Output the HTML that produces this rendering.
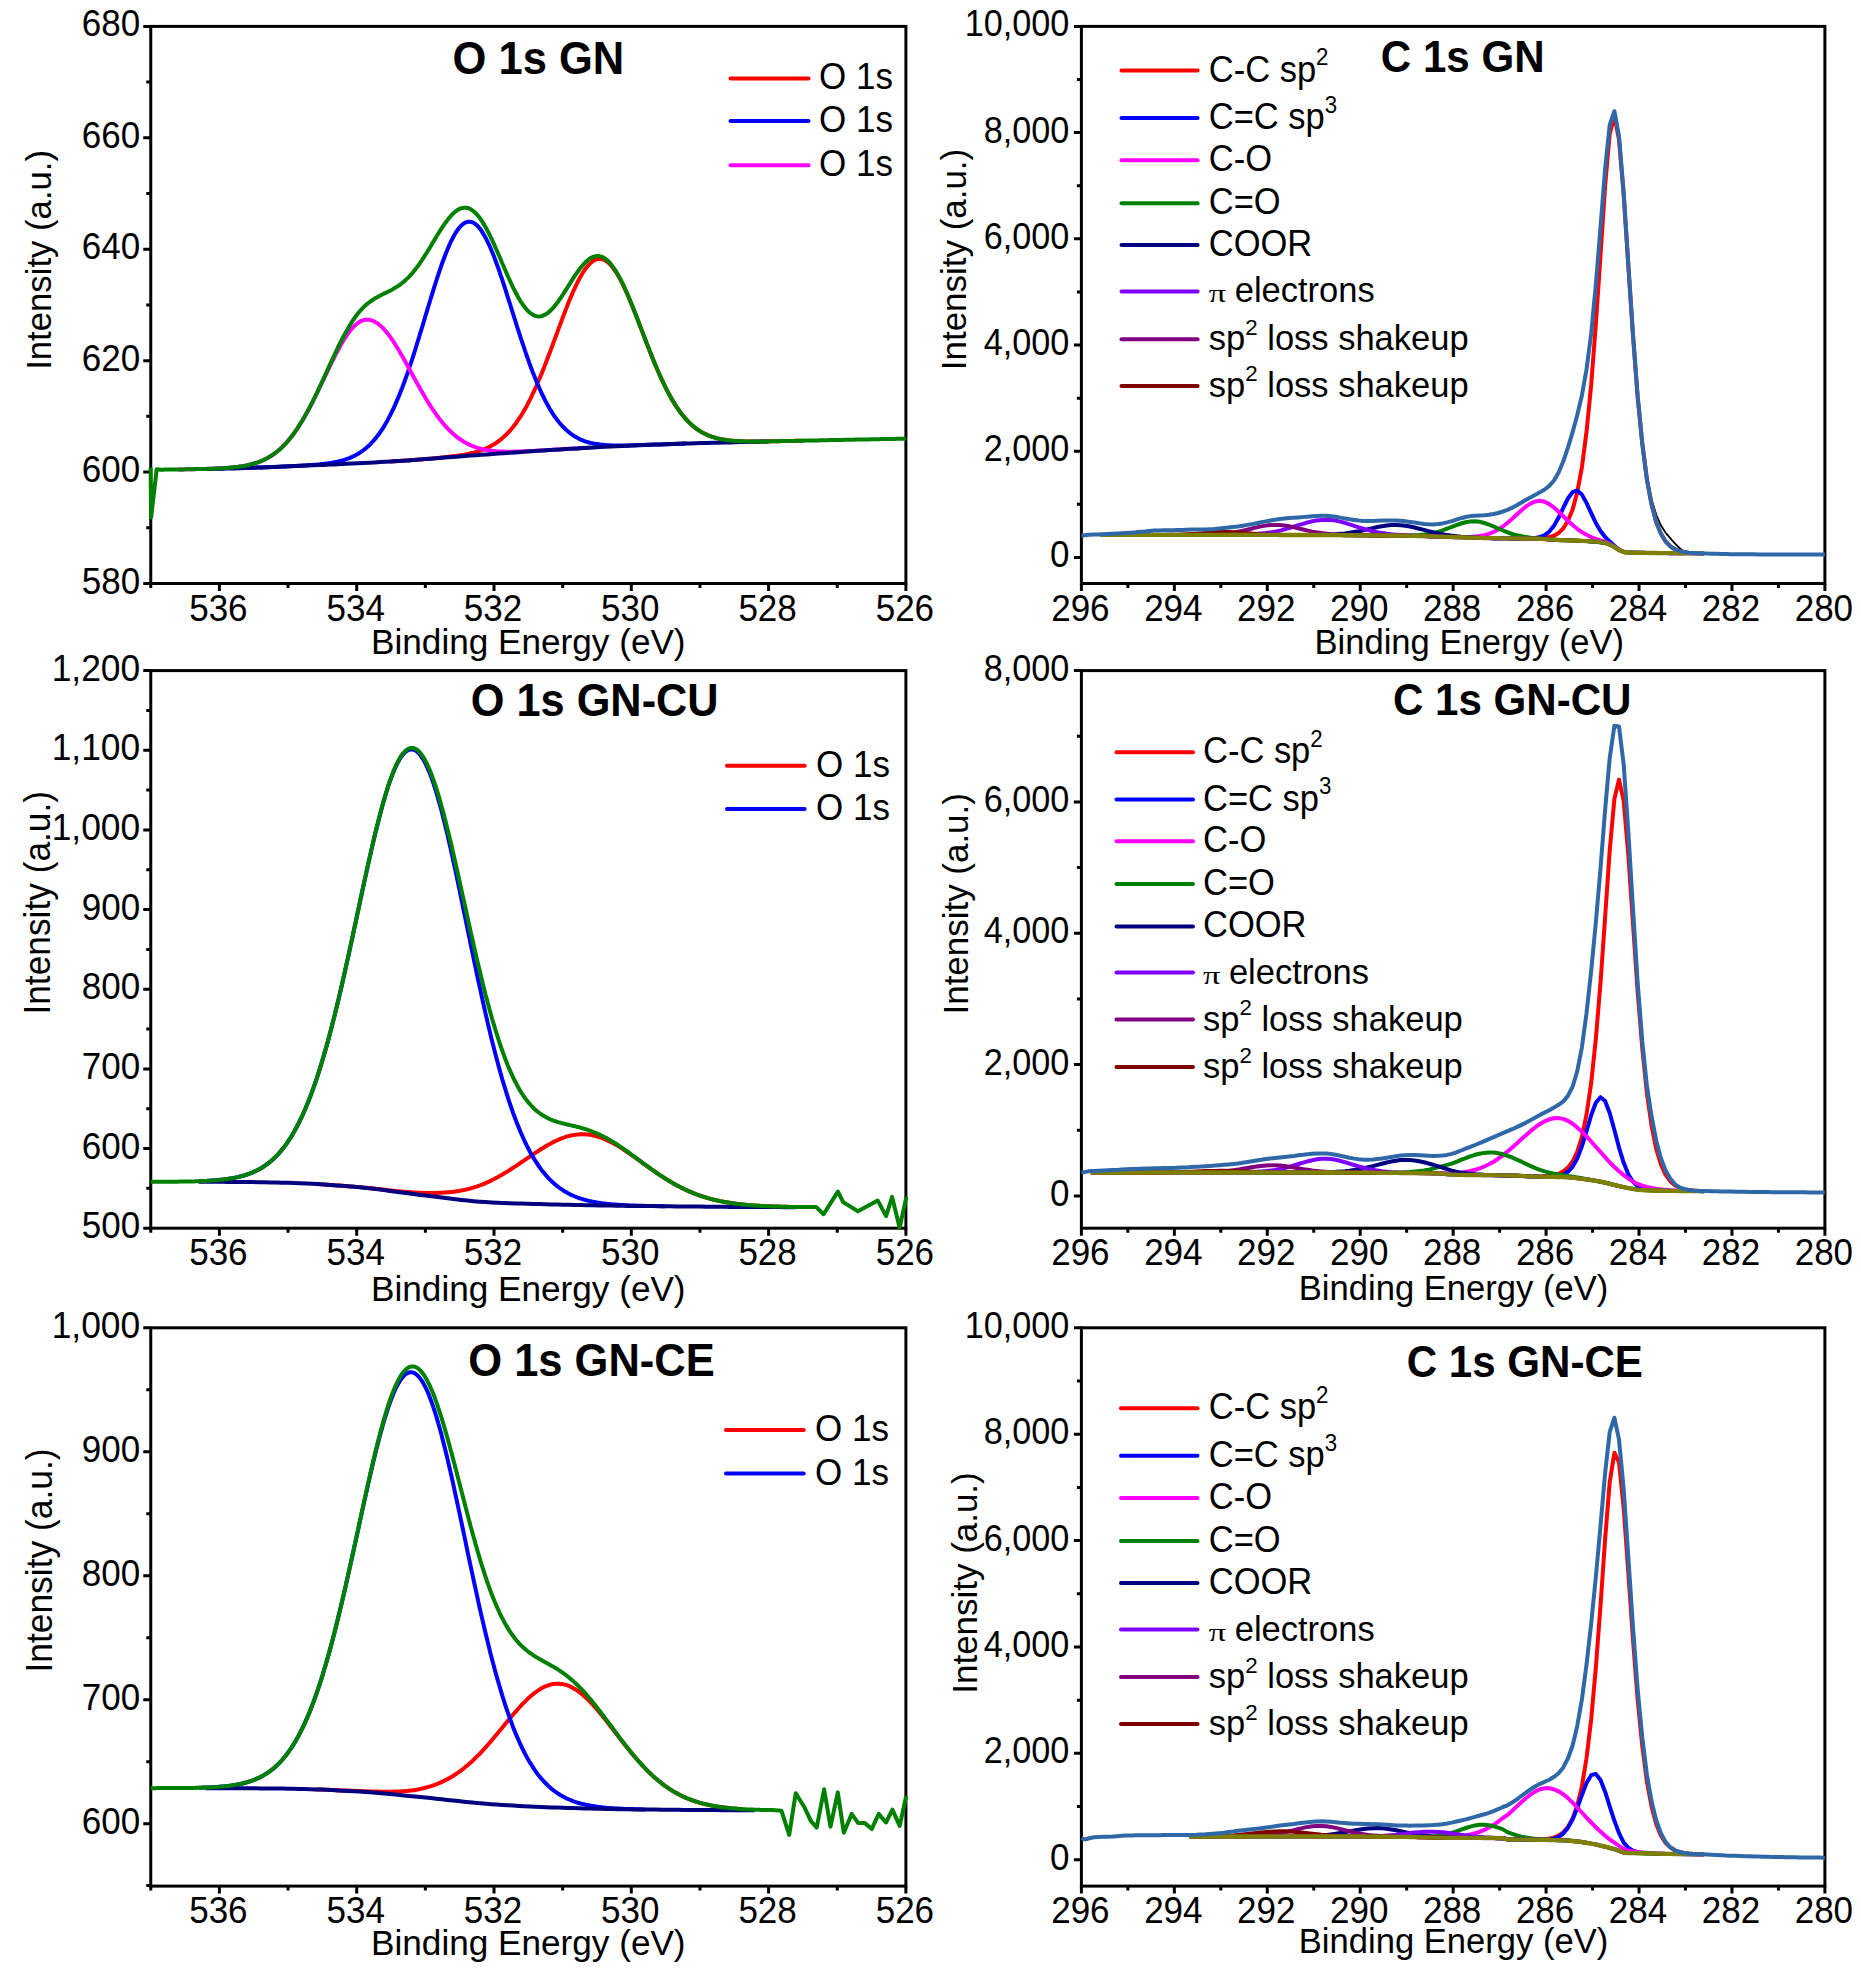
<!DOCTYPE html><html><head><meta charset="utf-8"><title>XPS</title><style>html,body{margin:0;padding:0;background:#fff}svg{display:block}text{font-family:"Liberation Sans", sans-serif;font-size:35px;fill:#000}</style></head><body>
<svg width="1861" height="1968" viewBox="0 0 1861 1968">
<rect width="1861" height="1968" fill="#fff"/>
<rect x="150.75" y="26.40" width="755.15" height="557.10" fill="none" stroke="#000" stroke-width="3.0"/>
<path d="M219.40 583.50v7.5M356.70 583.50v7.5M494.00 583.50v7.5M631.30 583.50v7.5M768.60 583.50v7.5M905.90 583.50v7.5M150.75 583.50v4.5M288.05 583.50v4.5M425.35 583.50v4.5M562.65 583.50v4.5M699.95 583.50v4.5M837.25 583.50v4.5M150.75 26.40h-7.5M150.75 137.82h-7.5M150.75 249.24h-7.5M150.75 360.66h-7.5M150.75 472.08h-7.5M150.75 583.50h-7.5M150.75 82.11h-4.5M150.75 193.53h-4.5M150.75 304.95h-4.5M150.75 416.37h-4.5M150.75 527.79h-4.5" stroke="#000" stroke-width="3.0" fill="none"/>
<text transform="translate(218.40 620.50) scale(1 1.07)" text-anchor="middle">536</text>
<text transform="translate(355.70 620.50) scale(1 1.07)" text-anchor="middle">534</text>
<text transform="translate(493.00 620.50) scale(1 1.07)" text-anchor="middle">532</text>
<text transform="translate(630.30 620.50) scale(1 1.07)" text-anchor="middle">530</text>
<text transform="translate(767.60 620.50) scale(1 1.07)" text-anchor="middle">528</text>
<text transform="translate(904.90 620.50) scale(1 1.07)" text-anchor="middle">526</text>
<text transform="translate(140.25 36.40) scale(1 1.07)" text-anchor="end">680</text>
<text transform="translate(140.25 147.82) scale(1 1.07)" text-anchor="end">660</text>
<text transform="translate(140.25 259.24) scale(1 1.07)" text-anchor="end">640</text>
<text transform="translate(140.25 370.66) scale(1 1.07)" text-anchor="end">620</text>
<text transform="translate(140.25 482.08) scale(1 1.07)" text-anchor="end">600</text>
<text transform="translate(140.25 593.50) scale(1 1.07)" text-anchor="end">580</text>
<polyline points="391.0,461.5 392.4,461.4 393.8,461.3 395.1,461.2 396.5,461.2 397.9,461.1 399.3,461.0 400.6,460.9 402.0,460.8 403.4,460.7 404.8,460.6 406.1,460.5 407.5,460.4 408.9,460.3 410.2,460.2 411.6,460.1 413.0,460.0 414.4,459.9 415.7,459.8 417.1,459.7 418.5,459.6 419.9,459.5 421.2,459.4 422.6,459.3 424.0,459.1 425.4,459.0 426.7,458.9 428.1,458.8 429.5,458.7 430.8,458.6 432.2,458.4 433.6,458.3 435.0,458.2 436.3,458.1 437.7,457.9 439.1,457.8 440.5,457.7 441.8,457.5 443.2,457.4 444.6,457.3 445.9,457.1 447.3,457.0 448.7,456.8 450.1,456.6 451.4,456.5 452.8,456.3 454.2,456.1 455.6,456.0 456.9,455.8 458.3,455.6 459.7,455.4 461.0,455.1 462.4,454.9 463.8,454.7 465.2,454.4 466.5,454.2 467.9,453.9 469.3,453.6 470.7,453.3 472.0,453.0 473.4,452.7 474.8,452.3 476.2,451.9 477.5,451.5 478.9,451.1 480.3,450.6 481.6,450.2 483.0,449.6 484.4,449.1 485.8,448.5 487.1,447.9 488.5,447.3 489.9,446.6 491.3,445.8 492.6,445.1 494.0,444.3 495.4,443.4 496.7,442.5 498.1,441.5 499.5,440.5 500.9,439.4 502.2,438.3 503.6,437.1 505.0,435.8 506.4,434.5 507.7,433.1 509.1,431.6 510.5,430.1 511.8,428.5 513.2,426.8 514.6,425.0 516.0,423.2 517.3,421.2 518.7,419.2 520.1,417.1 521.5,415.0 522.8,412.7 524.2,410.4 525.6,407.9 527.0,405.4 528.3,402.8 529.7,400.1 531.1,397.4 532.4,394.5 533.8,391.6 535.2,388.6 536.6,385.5 537.9,382.3 539.3,379.1 540.7,375.8 542.1,372.5 543.4,369.0 544.8,365.6 546.2,362.0 547.5,358.5 548.9,354.8 550.3,351.2 551.7,347.5 553.0,343.8 554.4,340.1 555.8,336.3 557.2,332.6 558.5,328.9 559.9,325.2 561.3,321.5 562.6,317.8 564.0,314.2 565.4,310.6 566.8,307.1 568.1,303.6 569.5,300.2 570.9,296.9 572.3,293.7 573.6,290.6 575.0,287.6 576.4,284.7 577.8,281.9 579.1,279.2 580.5,276.7 581.9,274.3 583.2,272.1 584.6,270.0 586.0,268.1 587.4,266.4 588.7,264.8 590.1,263.4 591.5,262.2 592.9,261.1 594.2,260.3 595.6,259.7 597.0,259.2 598.3,258.9 599.7,258.8 601.1,259.0 602.5,259.3 603.8,259.8 605.2,260.5 606.6,261.4 608.0,262.4 609.3,263.7 610.7,265.1 612.1,266.7 613.5,268.4 614.8,270.4 616.2,272.5 617.6,274.7 618.9,277.1 620.3,279.6 621.7,282.2 623.1,285.0 624.4,287.9 625.8,290.8 627.2,293.9 628.6,297.1 629.9,300.3 631.3,303.6 632.7,307.0 634.0,310.5 635.4,313.9 636.8,317.5 638.2,321.0 639.5,324.6 640.9,328.2 642.3,331.8 643.7,335.4 645.0,338.9 646.4,342.5 647.8,346.0 649.1,349.6 650.5,353.0 651.9,356.5 653.3,359.9 654.6,363.2 656.0,366.5 657.4,369.7 658.8,372.9 660.1,376.0 661.5,379.0 662.9,381.9 664.3,384.8 665.6,387.6 667.0,390.3 668.4,392.9 669.7,395.5 671.1,397.9 672.5,400.3 673.9,402.6 675.2,404.8 676.6,406.9 678.0,408.9 679.4,410.9 680.7,412.8 682.1,414.5 683.5,416.3 684.8,417.9 686.2,419.4 687.6,420.9 689.0,422.3 690.3,423.6 691.7,424.9 693.1,426.1 694.5,427.2 695.8,428.3 697.2,429.3 698.6,430.2 700.0,431.1 701.3,431.9 702.7,432.7 704.1,433.4 705.4,434.1 706.8,434.7 708.2,435.3 709.6,435.9 710.9,436.4 712.3,436.9 713.7,437.3 715.1,437.7 716.4,438.1 717.8,438.4 719.2,438.8 720.5,439.1 721.9,439.3 723.3,439.6 724.7,439.8 726.0,440.0 727.4,440.2 728.8,440.4 730.2,440.5 731.5,440.6 732.9,440.8 734.3,440.9 735.6,441.0 737.0,441.1 738.4,441.1 739.8,441.2 741.1,441.3 742.5,441.3 743.9,441.3 745.3,441.4 746.6,441.4 748.0,441.4 749.4,441.5 750.8,441.5 752.1,441.5 753.5,441.5 754.9,441.5 756.2,441.5 757.6,441.5 759.0,441.5 760.4,441.5 761.7,441.4 763.1,441.4 764.5,441.4 765.9,441.4 767.2,441.4 768.6,441.4 770.0,441.3 771.3,441.3 772.7,441.3 774.1,441.3 775.5,441.2 776.8,441.2 778.2,441.2 779.6,441.2 781.0,441.1 782.3,441.1 783.7,441.1 785.1,441.0 786.4,441.0 787.8,441.0 789.2,441.0 790.6,440.9 791.9,440.9 793.3,440.9 794.7,440.8 796.1,440.8 797.4,440.8 798.8,440.8 800.2,440.7 801.6,440.7 802.9,440.7" fill="none" stroke="#ff0000" stroke-width="4" stroke-linejoin="round" stroke-linecap="butt"/>
<polyline points="246.9,468.0 248.3,467.9 249.8,467.9 251.3,467.8 252.7,467.8 254.2,467.7 255.6,467.7 257.1,467.6 258.6,467.5 260.0,467.5 261.5,467.4 263.0,467.4 264.4,467.3 265.9,467.3 267.4,467.2 268.8,467.2 270.3,467.1 271.8,467.0 273.2,467.0 274.7,466.9 276.2,466.9 277.6,466.8 279.1,466.7 280.5,466.7 282.0,466.6 283.5,466.5 284.9,466.5 286.4,466.4 287.9,466.3 289.3,466.3 290.8,466.2 292.3,466.1 293.7,466.1 295.2,466.0 296.7,465.9 298.1,465.8 299.6,465.8 301.0,465.7 302.5,465.6 304.0,465.5 305.4,465.4 306.9,465.3 308.4,465.2 309.8,465.1 311.3,465.0 312.8,464.9 314.2,464.8 315.7,464.7 317.2,464.6 318.6,464.4 320.1,464.3 321.6,464.1 323.0,464.0 324.5,463.8 325.9,463.6 327.4,463.4 328.9,463.2 330.3,463.0 331.8,462.8 333.3,462.5 334.7,462.2 336.2,461.9 337.7,461.6 339.1,461.3 340.6,460.9 342.1,460.5 343.5,460.1 345.0,459.6 346.4,459.1 347.9,458.6 349.4,458.1 350.8,457.4 352.3,456.8 353.8,456.1 355.2,455.4 356.7,454.6 358.2,453.7 359.6,452.8 361.1,451.9 362.6,450.8 364.0,449.7 365.5,448.6 367.0,447.3 368.4,446.0 369.9,444.6 371.3,443.1 372.8,441.5 374.3,439.9 375.7,438.1 377.2,436.3 378.7,434.3 380.1,432.3 381.6,430.1 383.1,427.9 384.5,425.5 386.0,423.0 387.5,420.4 388.9,417.7 390.4,414.8 391.8,411.9 393.3,408.8 394.8,405.6 396.2,402.3 397.7,398.9 399.2,395.4 400.6,391.7 402.1,387.9 403.6,384.1 405.0,380.1 406.5,376.0 408.0,371.8 409.4,367.5 410.9,363.1 412.4,358.6 413.8,354.1 415.3,349.5 416.7,344.8 418.2,340.0 419.7,335.2 421.1,330.4 422.6,325.6 424.1,320.7 425.5,315.8 427.0,310.9 428.5,306.0 429.9,301.2 431.4,296.4 432.9,291.6 434.3,286.9 435.8,282.3 437.2,277.8 438.7,273.3 440.2,269.0 441.6,264.8 443.1,260.7 444.6,256.8 446.0,253.0 447.5,249.4 449.0,245.9 450.4,242.7 451.9,239.7 453.4,236.9 454.8,234.3 456.3,231.9 457.8,229.7 459.2,227.8 460.7,226.2 462.1,224.8 463.6,223.6 465.1,222.8 466.5,222.1 468.0,221.8 469.5,221.7 470.9,221.9 472.4,222.3 473.9,223.1 475.3,224.0 476.8,225.3 478.3,226.7 479.7,228.5 481.2,230.4 482.6,232.6 484.1,235.1 485.6,237.7 487.0,240.6 488.5,243.6 490.0,246.8 491.4,250.3 492.9,253.8 494.4,257.6 495.8,261.5 497.3,265.5 498.8,269.6 500.2,273.9 501.7,278.2 503.2,282.6 504.6,287.1 506.1,291.7 507.5,296.3 509.0,300.9 510.5,305.5 511.9,310.2 513.4,314.9 514.9,319.5 516.3,324.2 517.8,328.8 519.3,333.3 520.7,337.8 522.2,342.3 523.7,346.7 525.1,351.0 526.6,355.3 528.1,359.4 529.5,363.5 531.0,367.5 532.4,371.4 533.9,375.1 535.4,378.8 536.8,382.4 538.3,385.8 539.8,389.1 541.2,392.3 542.7,395.4 544.2,398.4 545.6,401.3 547.1,404.0 548.6,406.7 550.0,409.2 551.5,411.6 552.9,413.9 554.4,416.1 555.9,418.1 557.3,420.1 558.8,422.0 560.3,423.7 561.7,425.4 563.2,427.0 564.7,428.4 566.1,429.8 567.6,431.1 569.1,432.3 570.5,433.5 572.0,434.6 573.5,435.6 574.9,436.5 576.4,437.3 577.8,438.1 579.3,438.9 580.8,439.6 582.2,440.2 583.7,440.8 585.2,441.3 586.6,441.8 588.1,442.2 589.6,442.6 591.0,443.0 592.5,443.3 594.0,443.6 595.4,443.9 596.9,444.1 598.3,444.3 599.8,444.5 601.3,444.7 602.7,444.8 604.2,445.0 605.7,445.1 607.1,445.2 608.6,445.2 610.1,445.3 611.5,445.4 613.0,445.4 614.5,445.4 615.9,445.5 617.4,445.5 618.9,445.5 620.3,445.5 621.8,445.5 623.2,445.5 624.7,445.4 626.2,445.4 627.6,445.4 629.1,445.4 630.6,445.3 632.0,445.3 633.5,445.2 635.0,445.2 636.4,445.2 637.9,445.1 639.4,445.1 640.8,445.0 642.3,445.0 643.7,444.9 645.2,444.9 646.7,444.8 648.1,444.8 649.6,444.7 651.1,444.7 652.5,444.6 654.0,444.6 655.5,444.6 656.9,444.5 658.4,444.5 659.9,444.4 661.3,444.4 662.8,444.3 664.3,444.3 665.7,444.2 667.2,444.2 668.6,444.1 670.1,444.1 671.6,444.0 673.0,444.0 674.5,443.9 676.0,443.9 677.4,443.8 678.9,443.8 680.4,443.7 681.8,443.7 683.3,443.7 684.8,443.6 686.2,443.6" fill="none" stroke="#0000ff" stroke-width="4" stroke-linejoin="round" stroke-linecap="butt"/>
<polyline points="178.2,469.4 179.6,469.4 181.0,469.4 182.3,469.4 183.7,469.4 185.1,469.3 186.4,469.3 187.8,469.3 189.2,469.3 190.6,469.2 191.9,469.2 193.3,469.2 194.7,469.2 196.1,469.1 197.4,469.1 198.8,469.1 200.2,469.0 201.6,469.0 202.9,469.0 204.3,468.9 205.7,468.9 207.0,468.9 208.4,468.8 209.8,468.8 211.2,468.7 212.5,468.7 213.9,468.6 215.3,468.6 216.7,468.5 218.0,468.5 219.4,468.4 220.8,468.3 222.1,468.2 223.5,468.2 224.9,468.1 226.3,468.0 227.6,467.9 229.0,467.8 230.4,467.6 231.8,467.5 233.1,467.4 234.5,467.2 235.9,467.1 237.2,466.9 238.6,466.7 240.0,466.5 241.4,466.3 242.7,466.1 244.1,465.9 245.5,465.6 246.9,465.3 248.2,465.0 249.6,464.7 251.0,464.4 252.4,464.0 253.7,463.6 255.1,463.2 256.5,462.8 257.8,462.3 259.2,461.8 260.6,461.3 262.0,460.7 263.3,460.1 264.7,459.4 266.1,458.7 267.5,458.0 268.8,457.2 270.2,456.4 271.6,455.6 272.9,454.7 274.3,453.7 275.7,452.7 277.1,451.6 278.4,450.5 279.8,449.3 281.2,448.0 282.6,446.7 283.9,445.4 285.3,443.9 286.7,442.4 288.1,440.9 289.4,439.3 290.8,437.6 292.2,435.8 293.5,434.0 294.9,432.1 296.3,430.1 297.7,428.1 299.0,426.0 300.4,423.8 301.8,421.6 303.2,419.3 304.5,416.9 305.9,414.5 307.3,412.1 308.6,409.5 310.0,407.0 311.4,404.3 312.8,401.7 314.1,398.9 315.5,396.2 316.9,393.4 318.3,390.6 319.6,387.7 321.0,384.9 322.4,382.0 323.7,379.1 325.1,376.2 326.5,373.3 327.9,370.4 329.2,367.6 330.6,364.7 332.0,361.9 333.4,359.2 334.7,356.4 336.1,353.7 337.5,351.1 338.9,348.5 340.2,346.1 341.6,343.6 343.0,341.3 344.3,339.1 345.7,336.9 347.1,334.9 348.5,332.9 349.8,331.1 351.2,329.4 352.6,327.8 354.0,326.4 355.3,325.1 356.7,323.9 358.1,322.8 359.4,321.9 360.8,321.2 362.2,320.6 363.6,320.1 364.9,319.8 366.3,319.7 367.7,319.7 369.1,319.8 370.4,320.1 371.8,320.4 373.2,321.0 374.5,321.6 375.9,322.4 377.3,323.2 378.7,324.2 380.0,325.4 381.4,326.6 382.8,327.9 384.2,329.4 385.5,331.0 386.9,332.6 388.3,334.3 389.7,336.2 391.0,338.1 392.4,340.1 393.8,342.2 395.1,344.3 396.5,346.5 397.9,348.7 399.3,351.0 400.6,353.4 402.0,355.8 403.4,358.2 404.8,360.7 406.1,363.1 407.5,365.6 408.9,368.2 410.2,370.7 411.6,373.2 413.0,375.7 414.4,378.2 415.7,380.7 417.1,383.2 418.5,385.7 419.9,388.2 421.2,390.6 422.6,393.0 424.0,395.3 425.4,397.7 426.7,400.0 428.1,402.2 429.5,404.4 430.8,406.5 432.2,408.6 433.6,410.7 435.0,412.7 436.3,414.6 437.7,416.5 439.1,418.4 440.5,420.1 441.8,421.8 443.2,423.5 444.6,425.1 445.9,426.7 447.3,428.1 448.7,429.6 450.1,430.9 451.4,432.3 452.8,433.5 454.2,434.7 455.6,435.9 456.9,437.0 458.3,438.0 459.7,439.0 461.0,439.9 462.4,440.8 463.8,441.7 465.2,442.5 466.5,443.2 467.9,443.9 469.3,444.6 470.7,445.2 472.0,445.8 473.4,446.4 474.8,446.9 476.2,447.4 477.5,447.8 478.9,448.2 480.3,448.6 481.6,449.0 483.0,449.3 484.4,449.6 485.8,449.9 487.1,450.1 488.5,450.4 489.9,450.6 491.3,450.7 492.6,450.9 494.0,451.1 495.4,451.2 496.7,451.3 498.1,451.4 499.5,451.5 500.9,451.5 502.2,451.6 503.6,451.6 505.0,451.7 506.4,451.7 507.7,451.7 509.1,451.7 510.5,451.7 511.8,451.7 513.2,451.7 514.6,451.7 516.0,451.6 517.3,451.6 518.7,451.6 520.1,451.5 521.5,451.5 522.8,451.4 524.2,451.4 525.6,451.3 527.0,451.2 528.3,451.2 529.7,451.1 531.1,451.0 532.4,451.0 533.8,450.9 535.2,450.8 536.6,450.7 537.9,450.7 539.3,450.6 540.7,450.5 542.1,450.4 543.4,450.4 544.8,450.3 546.2,450.2 547.5,450.1 548.9,450.0 550.3,449.9 551.7,449.9 553.0,449.8 554.4,449.7 555.8,449.6 557.2,449.5 558.5,449.5 559.9,449.4 561.3,449.3 562.6,449.2 564.0,449.1 565.4,449.1 566.8,449.0 568.1,448.9 569.5,448.8 570.9,448.8 572.3,448.7 573.6,448.6 575.0,448.5 576.4,448.4 577.8,448.4 579.1,448.3 580.5,448.2 581.9,448.1 583.2,448.0 584.6,448.0 586.0,447.9 587.4,447.8 588.7,447.7 590.1,447.7" fill="none" stroke="#ff00ff" stroke-width="4" stroke-linejoin="round" stroke-linecap="butt"/>
<polyline points="205.7,469.0 211.3,468.9 216.9,468.8 222.6,468.7 228.2,468.5 233.8,468.4 239.4,468.2 245.1,468.0 250.7,467.8 256.3,467.6 262.0,467.4 267.6,467.2 273.2,467.0 278.9,466.8 284.5,466.5 290.1,466.3 295.7,466.1 301.4,465.8 307.0,465.6 312.6,465.3 318.3,465.1 323.9,464.9 329.5,464.6 335.1,464.4 340.8,464.1 346.4,463.8 352.0,463.6 357.7,463.3 363.3,463.0 368.9,462.7 374.5,462.4 380.2,462.1 385.8,461.8 391.4,461.5 397.1,461.1 402.7,460.8 408.3,460.4 414.0,460.0 419.6,459.5 425.2,459.1 430.8,458.7 436.5,458.2 442.1,457.8 447.7,457.3 453.4,456.9 459.0,456.4 464.6,456.0 470.2,455.6 475.9,455.2 481.5,454.8 487.1,454.4 492.8,454.0 498.4,453.6 504.0,453.2 509.7,452.8 515.3,452.4 520.9,452.0 526.5,451.6 532.2,451.2 537.8,450.8 543.4,450.4 549.1,450.1 554.7,449.7 560.3,449.4 565.9,449.0 571.6,448.7 577.2,448.4 582.8,448.1 588.5,447.7 594.1,447.4 599.7,447.1 605.4,446.8 611.0,446.5 616.6,446.2 622.2,446.0 627.9,445.7 633.5,445.4 639.1,445.2 644.8,445.0 650.4,444.8 656.0,444.6 661.6,444.4 667.3,444.2 672.9,444.0 678.5,443.8 684.2,443.6 689.8,443.5 695.4,443.3 701.0,443.1 706.7,443.0 712.3,442.8 717.9,442.7 723.6,442.5 729.2,442.4 734.8,442.3 740.5,442.1 746.1,442.0 751.7,441.8 757.3,441.7 763.0,441.6 768.6,441.4" fill="none" stroke="#000080" stroke-width="4" stroke-linejoin="round" stroke-linecap="butt"/>
<polyline points="150.6,467.5 151.1,517.4 156.7,469.2 161.0,469.7 162.9,469.7 164.8,469.6 166.6,469.6 168.5,469.6 170.4,469.6 172.2,469.5 174.1,469.5 175.9,469.5 177.8,469.4 179.7,469.4 181.5,469.4 183.4,469.4 185.3,469.3 187.1,469.3 189.0,469.3 190.8,469.2 192.7,469.2 194.6,469.2 196.4,469.1 198.3,469.1 200.2,469.0 202.0,469.0 203.9,468.9 205.7,468.9 207.6,468.8 209.5,468.8 211.3,468.7 213.2,468.7 215.0,468.6 216.9,468.5 218.8,468.4 220.6,468.3 222.5,468.2 224.4,468.1 226.2,468.0 228.1,467.8 229.9,467.7 231.8,467.5 233.7,467.3 235.5,467.1 237.4,466.9 239.3,466.6 241.1,466.4 243.0,466.1 244.8,465.7 246.7,465.4 248.6,465.0 250.4,464.5 252.3,464.0 254.2,463.5 256.0,462.9 257.9,462.3 259.7,461.6 261.6,460.8 263.5,460.0 265.3,459.1 267.2,458.2 269.1,457.1 270.9,456.0 272.8,454.8 274.6,453.4 276.5,452.0 278.4,450.5 280.2,448.9 282.1,447.2 283.9,445.3 285.8,443.4 287.7,441.3 289.5,439.1 291.4,436.7 293.3,434.3 295.1,431.7 297.0,429.0 298.8,426.1 300.7,423.2 302.6,420.1 304.4,416.9 306.3,413.6 308.2,410.2 310.0,406.6 311.9,403.0 313.7,399.3 315.6,395.5 317.5,391.6 319.3,387.6 321.2,383.7 323.1,379.6 324.9,375.6 326.8,371.5 328.6,367.4 330.5,363.4 332.4,359.3 334.2,355.3 336.1,351.4 337.9,347.5 339.8,343.7 341.7,340.0 343.5,336.5 345.4,333.0 347.3,329.7 349.1,326.5 351.0,323.4 352.8,320.5 354.7,317.8 356.6,315.3 358.4,312.9 360.3,310.7 362.2,308.6 364.0,306.8 365.9,305.1 367.7,303.5 369.6,302.1 371.5,300.7 373.3,299.5 375.2,298.3 377.1,297.3 378.9,296.2 380.8,295.3 382.6,294.3 384.5,293.4 386.4,292.5 388.2,291.6 390.1,290.7 392.0,289.7 393.8,288.6 395.7,287.5 397.5,286.4 399.4,285.1 401.3,283.7 403.1,282.2 405.0,280.6 406.8,278.9 408.7,277.1 410.6,275.1 412.4,273.0 414.3,270.7 416.2,268.3 418.0,265.8 419.9,263.2 421.7,260.5 423.6,257.6 425.5,254.7 427.3,251.7 429.2,248.7 431.1,245.6 432.9,242.5 434.8,239.4 436.6,236.3 438.5,233.3 440.4,230.3 442.2,227.4 444.1,224.7 446.0,222.0 447.8,219.6 449.7,217.3 451.5,215.2 453.4,213.3 455.3,211.7 457.1,210.3 459.0,209.2 460.9,208.4 462.7,207.9 464.6,207.7 466.4,207.8 468.3,208.2 470.2,209.0 472.0,210.1 473.9,211.5 475.7,213.2 477.6,215.3 479.5,217.6 481.3,220.2 483.2,223.1 485.1,226.2 486.9,229.6 488.8,233.2 490.6,237.0 492.5,240.9 494.4,245.0 496.2,249.2 498.1,253.5 500.0,257.8 501.8,262.2 503.7,266.5 505.5,270.8 507.4,275.1 509.3,279.3 511.1,283.3 513.0,287.3 514.9,291.0 516.7,294.6 518.6,298.0 520.4,301.1 522.3,303.9 524.2,306.5 526.0,308.9 527.9,310.9 529.7,312.6 531.6,314.0 533.5,315.1 535.3,315.9 537.2,316.3 539.1,316.4 540.9,316.2 542.8,315.7 544.6,314.9 546.5,313.8 548.4,312.5 550.2,310.8 552.1,309.0 554.0,306.9 555.8,304.6 557.7,302.2 559.5,299.6 561.4,296.8 563.3,294.0 565.1,291.1 567.0,288.1 568.9,285.2 570.7,282.2 572.6,279.3 574.4,276.4 576.3,273.7 578.2,271.0 580.0,268.5 581.9,266.2 583.8,264.1 585.6,262.1 587.5,260.4 589.3,259.0 591.2,257.8 593.1,256.9 594.9,256.4 596.8,256.1 598.6,256.1 600.5,256.4 602.4,257.1 604.2,258.0 606.1,259.3 608.0,261.0 609.8,262.9 611.7,265.1 613.5,267.6 615.4,270.4 617.3,273.5 619.1,276.8 621.0,280.3 622.9,284.1 624.7,288.0 626.6,292.2 628.4,296.5 630.3,301.0 632.2,305.5 634.0,310.2 635.9,315.0 637.8,319.8 639.6,324.7 641.5,329.6 643.3,334.4 645.2,339.3 647.1,344.2 648.9,348.9 650.8,353.7 652.7,358.3 654.5,362.9 656.4,367.3 658.2,371.7 660.1,375.9 662.0,380.0 663.8,383.9 665.7,387.7 667.5,391.4 669.4,394.8 671.3,398.2 673.1,401.4 675.0,404.4 676.9,407.3 678.7,410.0 680.6,412.6 682.4,415.0 684.3,417.2 686.2,419.4 688.0,421.4 689.9,423.2 691.8,424.9 693.6,426.5 695.5,428.0 697.3,429.4 699.2,430.6 701.1,431.8 702.9,432.8 704.8,433.8 706.7,434.7 708.5,435.5 710.4,436.2 712.2,436.9 714.1,437.4 716.0,438.0 717.8,438.5 719.7,438.9 721.5,439.3 723.4,439.6 725.3,439.9 727.1,440.2 729.0,440.4 730.9,440.6 732.7,440.7 734.6,440.9 736.4,441.0 738.3,441.1 740.2,441.2 742.0,441.3 743.9,441.3 745.8,441.4 747.6,441.4 749.5,441.5 751.3,441.5 753.2,441.5 755.1,441.5 756.9,441.5 758.8,441.5 760.7,441.5 762.5,441.4 764.4,441.4 766.2,441.4 768.1,441.4 770.0,441.3 771.8,441.3 773.7,441.3 775.6,441.2 777.4,441.2 779.3,441.2 781.1,441.1 783.0,441.1 784.9,441.0 786.7,441.0 788.6,441.0 790.4,440.9 792.3,440.9 794.2,440.9 796.0,440.8 797.9,440.8 799.8,440.7 801.6,440.7 803.5,440.7 805.3,440.6 807.2,440.6 809.1,440.5 810.9,440.5 812.8,440.5 814.7,440.4 816.5,440.4 818.4,440.4 820.2,440.3 822.1,440.3 824.0,440.2 825.8,440.2 827.7,440.2 829.6,440.1 831.4,440.1 833.3,440.1 835.1,440.0 837.0,440.0 838.9,440.0 840.7,439.9 842.6,439.9 844.4,439.8 846.3,439.8 848.2,439.8 850.0,439.7 851.9,439.7 853.8,439.7 855.6,439.6 857.5,439.6 859.3,439.6 861.2,439.5 863.1,439.5 864.9,439.5 866.8,439.4 868.7,439.4 870.5,439.3 872.4,439.3 874.2,439.3 876.1,439.2 878.0,439.2 879.8,439.2 881.7,439.1 883.6,439.1 885.4,439.1 887.3,439.0 889.1,439.0 891.0,439.0 892.9,438.9 894.7,438.9 896.6,438.8 898.5,438.8 900.3,438.8 902.2,438.7 904.0,438.7 905.9,438.7" fill="none" stroke="#008000" stroke-width="4" stroke-linejoin="round"/>
<text transform="translate(528.30 653.50) scale(1 1.02)" text-anchor="middle" style="font-size:35.15px">Binding Energy (eV)</text>
<text transform="translate(50.60 259.90) rotate(-90) scale(1 1.03)" text-anchor="middle" style="font-size:34.7px">Intensity (a.u.)</text>
<text transform="translate(538.40 73.50) scale(1 1.06)" text-anchor="middle" font-weight="bold" style="font-size:43.5px">O 1s GN</text>
<line x1="730.5" x2="808.5" y1="78.4" y2="78.4" stroke="#ff0000" stroke-width="4" stroke-linecap="round"/>
<text transform="translate(819 89.4) scale(1 1.07)">O 1s</text>
<line x1="730.5" x2="808.5" y1="121.1" y2="121.1" stroke="#0000ff" stroke-width="4" stroke-linecap="round"/>
<text transform="translate(819 132.1) scale(1 1.07)">O 1s</text>
<line x1="730.5" x2="808.5" y1="165.3" y2="165.3" stroke="#ff00ff" stroke-width="4" stroke-linecap="round"/>
<text transform="translate(819 176.3) scale(1 1.07)">O 1s</text>
<rect x="150.75" y="670.60" width="755.15" height="557.60" fill="none" stroke="#000" stroke-width="3.0"/>
<path d="M219.40 1228.20v7.5M356.70 1228.20v7.5M494.00 1228.20v7.5M631.30 1228.20v7.5M768.60 1228.20v7.5M905.90 1228.20v7.5M150.75 1228.20v4.5M288.05 1228.20v4.5M425.35 1228.20v4.5M562.65 1228.20v4.5M699.95 1228.20v4.5M837.25 1228.20v4.5M150.75 670.60h-7.5M150.75 750.26h-7.5M150.75 829.91h-7.5M150.75 909.57h-7.5M150.75 989.23h-7.5M150.75 1068.89h-7.5M150.75 1148.54h-7.5M150.75 1228.20h-7.5M150.75 710.43h-4.5M150.75 790.09h-4.5M150.75 869.74h-4.5M150.75 949.40h-4.5M150.75 1029.06h-4.5M150.75 1108.71h-4.5M150.75 1188.37h-4.5" stroke="#000" stroke-width="3.0" fill="none"/>
<text transform="translate(218.40 1265.20) scale(1 1.07)" text-anchor="middle">536</text>
<text transform="translate(355.70 1265.20) scale(1 1.07)" text-anchor="middle">534</text>
<text transform="translate(493.00 1265.20) scale(1 1.07)" text-anchor="middle">532</text>
<text transform="translate(630.30 1265.20) scale(1 1.07)" text-anchor="middle">530</text>
<text transform="translate(767.60 1265.20) scale(1 1.07)" text-anchor="middle">528</text>
<text transform="translate(904.90 1265.20) scale(1 1.07)" text-anchor="middle">526</text>
<text transform="translate(140.25 680.60) scale(1.012 1.07)" text-anchor="end">1,200</text>
<text transform="translate(140.25 760.26) scale(1.012 1.07)" text-anchor="end">1,100</text>
<text transform="translate(140.25 839.91) scale(1.012 1.07)" text-anchor="end">1,000</text>
<text transform="translate(140.25 919.57) scale(1 1.07)" text-anchor="end">900</text>
<text transform="translate(140.25 999.23) scale(1 1.07)" text-anchor="end">800</text>
<text transform="translate(140.25 1078.89) scale(1 1.07)" text-anchor="end">700</text>
<text transform="translate(140.25 1158.54) scale(1 1.07)" text-anchor="end">600</text>
<text transform="translate(140.25 1238.20) scale(1 1.07)" text-anchor="end">500</text>
<polyline points="315.5,1184.0 317.1,1184.1 318.8,1184.2 320.4,1184.3 322.0,1184.4 323.6,1184.5 325.3,1184.6 326.9,1184.7 328.5,1184.8 330.1,1184.9 331.8,1185.0 333.4,1185.1 335.0,1185.3 336.6,1185.4 338.3,1185.5 339.9,1185.6 341.5,1185.7 343.1,1185.9 344.8,1186.0 346.4,1186.1 348.0,1186.2 349.6,1186.4 351.3,1186.5 352.9,1186.6 354.5,1186.7 356.1,1186.9 357.8,1187.0 359.4,1187.1 361.0,1187.3 362.6,1187.4 364.3,1187.6 365.9,1187.7 367.5,1187.9 369.1,1188.1 370.8,1188.2 372.4,1188.4 374.0,1188.6 375.6,1188.8 377.2,1188.9 378.9,1189.1 380.5,1189.3 382.1,1189.5 383.7,1189.7 385.4,1189.8 387.0,1190.0 388.6,1190.2 390.2,1190.4 391.9,1190.6 393.5,1190.7 395.1,1190.9 396.7,1191.1 398.4,1191.2 400.0,1191.4 401.6,1191.5 403.2,1191.7 404.9,1191.8 406.5,1192.0 408.1,1192.1 409.7,1192.2 411.4,1192.3 413.0,1192.5 414.6,1192.6 416.2,1192.6 417.9,1192.7 419.5,1192.8 421.1,1192.8 422.7,1192.9 424.4,1192.9 426.0,1192.9 427.6,1193.0 429.2,1193.0 430.9,1193.0 432.5,1192.9 434.1,1192.9 435.7,1192.9 437.4,1192.9 439.0,1192.8 440.6,1192.7 442.2,1192.7 443.9,1192.6 445.5,1192.5 447.1,1192.3 448.7,1192.2 450.4,1192.0 452.0,1191.9 453.6,1191.7 455.2,1191.5 456.9,1191.2 458.5,1191.0 460.1,1190.7 461.7,1190.4 463.4,1190.1 465.0,1189.8 466.6,1189.4 468.2,1189.0 469.9,1188.6 471.5,1188.2 473.1,1187.7 474.7,1187.2 476.4,1186.7 478.0,1186.1 479.6,1185.5 481.2,1184.9 482.9,1184.3 484.5,1183.6 486.1,1182.9 487.7,1182.2 489.4,1181.4 491.0,1180.6 492.6,1179.8 494.2,1179.0 495.9,1178.1 497.5,1177.3 499.1,1176.4 500.7,1175.4 502.4,1174.5 504.0,1173.5 505.6,1172.6 507.2,1171.6 508.9,1170.6 510.5,1169.5 512.1,1168.5 513.7,1167.4 515.4,1166.4 517.0,1165.3 518.6,1164.2 520.2,1163.1 521.8,1162.0 523.5,1160.9 525.1,1159.8 526.7,1158.7 528.3,1157.6 530.0,1156.5 531.6,1155.4 533.2,1154.3 534.8,1153.2 536.5,1152.1 538.1,1151.1 539.7,1150.0 541.3,1149.0 543.0,1148.0 544.6,1147.0 546.2,1146.0 547.8,1145.1 549.5,1144.2 551.1,1143.3 552.7,1142.4 554.3,1141.6 556.0,1140.8 557.6,1140.1 559.2,1139.4 560.8,1138.7 562.5,1138.1 564.1,1137.5 565.7,1136.9 567.3,1136.4 569.0,1136.0 570.6,1135.6 572.2,1135.2 573.8,1134.9 575.5,1134.7 577.1,1134.5 578.7,1134.4 580.3,1134.3 582.0,1134.2 583.6,1134.2 585.2,1134.3 586.8,1134.4 588.5,1134.6 590.1,1134.8 591.7,1135.1 593.3,1135.5 595.0,1135.8 596.6,1136.3 598.2,1136.8 599.8,1137.3 601.5,1137.9 603.1,1138.5 604.7,1139.2 606.3,1139.9 608.0,1140.6 609.6,1141.4 611.2,1142.2 612.8,1143.1 614.5,1144.0 616.1,1144.9 617.7,1145.9 619.3,1146.9 621.0,1147.9 622.6,1148.9 624.2,1150.0 625.8,1151.1 627.5,1152.2 629.1,1153.3 630.7,1154.4 632.3,1155.6 634.0,1156.7 635.6,1157.9 637.2,1159.1 638.8,1160.2 640.5,1161.4 642.1,1162.6 643.7,1163.8 645.3,1164.9 647.0,1166.1 648.6,1167.3 650.2,1168.4 651.8,1169.6 653.5,1170.7 655.1,1171.8 656.7,1173.0 658.3,1174.1 659.9,1175.1 661.6,1176.2 663.2,1177.3 664.8,1178.3 666.4,1179.3 668.1,1180.3 669.7,1181.3 671.3,1182.3 672.9,1183.2 674.6,1184.1 676.2,1185.0 677.8,1185.9 679.4,1186.7 681.1,1187.6 682.7,1188.4 684.3,1189.2 685.9,1189.9 687.6,1190.7 689.2,1191.4 690.8,1192.1 692.4,1192.7 694.1,1193.4 695.7,1194.0 697.3,1194.6 698.9,1195.2 700.6,1195.8 702.2,1196.3 703.8,1196.9 705.4,1197.4 707.1,1197.8 708.7,1198.3 710.3,1198.8 711.9,1199.2 713.6,1199.6 715.2,1200.0 716.8,1200.4 718.4,1200.7 720.1,1201.1 721.7,1201.4 723.3,1201.7 724.9,1202.0 726.6,1202.3 728.2,1202.6 729.8,1202.8 731.4,1203.1 733.1,1203.3 734.7,1203.6 736.3,1203.8 737.9,1204.0 739.6,1204.2 741.2,1204.3 742.8,1204.5 744.4,1204.7 746.1,1204.8 747.7,1205.0 749.3,1205.1 750.9,1205.3 752.6,1205.4 754.2,1205.5 755.8,1205.6 757.4,1205.7 759.1,1205.8 760.7,1205.9 762.3,1206.0 763.9,1206.1 765.6,1206.1 767.2,1206.2 768.8,1206.3 770.4,1206.4 772.1,1206.4 773.7,1206.5 775.3,1206.5 776.9,1206.6 778.6,1206.6 780.2,1206.7 781.8,1206.7 783.4,1206.7 785.1,1206.8 786.7,1206.8 788.3,1206.8 789.9,1206.9 791.6,1206.9 793.2,1206.9 794.8,1207.0 796.4,1207.0 798.1,1207.0 799.7,1207.0 801.3,1207.0 802.9,1207.1" fill="none" stroke="#ff0000" stroke-width="4" stroke-linejoin="round" stroke-linecap="butt"/>
<polyline points="198.8,1181.2 200.4,1181.2 201.9,1181.1 203.5,1181.0 205.0,1181.0 206.6,1180.9 208.1,1180.8 209.7,1180.7 211.3,1180.6 212.8,1180.5 214.4,1180.4 215.9,1180.3 217.5,1180.1 219.0,1180.0 220.6,1179.8 222.1,1179.6 223.7,1179.5 225.3,1179.3 226.8,1179.1 228.4,1178.8 229.9,1178.6 231.5,1178.3 233.0,1178.1 234.6,1177.8 236.2,1177.4 237.7,1177.1 239.3,1176.7 240.8,1176.3 242.4,1175.9 243.9,1175.5 245.5,1175.0 247.0,1174.5 248.6,1174.0 250.2,1173.4 251.7,1172.8 253.3,1172.1 254.8,1171.4 256.4,1170.7 257.9,1169.9 259.5,1169.0 261.0,1168.2 262.6,1167.2 264.2,1166.2 265.7,1165.1 267.3,1164.0 268.8,1162.8 270.4,1161.6 271.9,1160.2 273.5,1158.8 275.1,1157.4 276.6,1155.8 278.2,1154.1 279.7,1152.4 281.3,1150.6 282.8,1148.7 284.4,1146.7 285.9,1144.6 287.5,1142.3 289.1,1140.0 290.6,1137.6 292.2,1135.1 293.7,1132.4 295.3,1129.6 296.8,1126.8 298.4,1123.8 299.9,1120.6 301.5,1117.4 303.1,1114.0 304.6,1110.5 306.2,1106.8 307.7,1103.1 309.3,1099.1 310.8,1095.1 312.4,1090.9 314.0,1086.5 315.5,1082.0 317.1,1077.4 318.6,1072.6 320.2,1067.7 321.7,1062.6 323.3,1057.4 324.8,1052.1 326.4,1046.6 328.0,1040.9 329.5,1035.2 331.1,1029.3 332.6,1023.2 334.2,1017.1 335.7,1010.8 337.3,1004.4 338.9,997.9 340.4,991.2 342.0,984.5 343.5,977.7 345.1,970.8 346.6,963.8 348.2,956.7 349.7,949.6 351.3,942.4 352.9,935.2 354.4,927.9 356.0,920.7 357.5,913.4 359.1,906.1 360.6,898.8 362.2,891.6 363.7,884.4 365.3,877.2 366.9,870.1 368.4,863.1 370.0,856.2 371.5,849.4 373.1,842.7 374.6,836.1 376.2,829.7 377.8,823.5 379.3,817.4 380.9,811.5 382.4,805.8 384.0,800.3 385.5,795.0 387.1,789.9 388.6,785.2 390.2,780.6 391.8,776.4 393.3,772.4 394.9,768.7 396.4,765.3 398.0,762.2 399.5,759.5 401.1,757.0 402.6,754.9 404.2,753.1 405.8,751.7 407.3,750.6 408.9,749.9 410.4,749.5 412.0,749.4 413.5,749.7 415.1,750.4 416.7,751.4 418.2,752.7 419.8,754.4 421.3,756.5 422.9,758.8 424.4,761.5 426.0,764.6 427.5,767.9 429.1,771.6 430.7,775.5 432.2,779.8 433.8,784.3 435.3,789.2 436.9,794.3 438.4,799.6 440.0,805.2 441.6,811.0 443.1,817.0 444.7,823.2 446.2,829.6 447.8,836.2 449.3,843.0 450.9,849.8 452.4,856.9 454.0,864.0 455.6,871.2 457.1,878.6 458.7,886.0 460.2,893.5 461.8,901.0 463.3,908.5 464.9,916.1 466.4,923.7 468.0,931.3 469.6,938.9 471.1,946.4 472.7,953.9 474.2,961.4 475.8,968.8 477.3,976.2 478.9,983.4 480.5,990.6 482.0,997.7 483.6,1004.7 485.1,1011.6 486.7,1018.4 488.2,1025.0 489.8,1031.6 491.3,1038.0 492.9,1044.2 494.5,1050.4 496.0,1056.4 497.6,1062.3 499.1,1068.0 500.7,1073.6 502.2,1079.0 503.8,1084.3 505.4,1089.4 506.9,1094.4 508.5,1099.3 510.0,1104.0 511.6,1108.5 513.1,1113.0 514.7,1117.2 516.2,1121.3 517.8,1125.3 519.4,1129.1 520.9,1132.8 522.5,1136.4 524.0,1139.8 525.6,1143.1 527.1,1146.3 528.7,1149.3 530.2,1152.2 531.8,1155.0 533.4,1157.7 534.9,1160.2 536.5,1162.7 538.0,1165.0 539.6,1167.2 541.1,1169.4 542.7,1171.4 544.3,1173.3 545.8,1175.2 547.4,1176.9 548.9,1178.6 550.5,1180.2 552.0,1181.7 553.6,1183.1 555.1,1184.4 556.7,1185.7 558.3,1187.0 559.8,1188.1 561.4,1189.2 562.9,1190.2 564.5,1191.2 566.0,1192.1 567.6,1193.0 569.1,1193.8 570.7,1194.6 572.3,1195.3 573.8,1196.0 575.4,1196.6 576.9,1197.3 578.5,1197.8 580.0,1198.4 581.6,1198.9 583.2,1199.3 584.7,1199.8 586.3,1200.2 587.8,1200.6 589.4,1201.0 590.9,1201.3 592.5,1201.6 594.0,1201.9 595.6,1202.2 597.2,1202.5 598.7,1202.7 600.3,1203.0 601.8,1203.2 603.4,1203.4 604.9,1203.6 606.5,1203.8 608.1,1203.9 609.6,1204.1 611.2,1204.2 612.7,1204.4 614.3,1204.5 615.8,1204.6 617.4,1204.7 618.9,1204.8 620.5,1204.9 622.1,1205.0 623.6,1205.1 625.2,1205.2 626.7,1205.3 628.3,1205.3 629.8,1205.4 631.4,1205.5 632.9,1205.5 634.5,1205.6 636.1,1205.6 637.6,1205.7 639.2,1205.7 640.7,1205.8 642.3,1205.8 643.8,1205.8 645.4,1205.9 647.0,1205.9 648.5,1205.9 650.1,1206.0 651.6,1206.0 653.2,1206.0 654.7,1206.1 656.3,1206.1 657.8,1206.1 659.4,1206.1 661.0,1206.2 662.5,1206.2 664.1,1206.2 665.6,1206.2" fill="none" stroke="#0000ff" stroke-width="4" stroke-linejoin="round" stroke-linecap="butt"/>
<polyline points="198.8,1181.8 204.8,1181.8 210.8,1181.8 216.7,1181.8 222.7,1181.8 228.7,1181.9 234.6,1181.9 240.6,1182.0 246.6,1182.0 252.6,1182.1 258.5,1182.2 264.5,1182.3 270.5,1182.4 276.4,1182.5 282.4,1182.7 288.4,1182.8 294.4,1183.0 300.3,1183.2 306.3,1183.5 312.3,1183.8 318.3,1184.1 324.2,1184.5 330.2,1184.9 336.2,1185.4 342.1,1185.8 348.1,1186.3 354.1,1186.8 360.1,1187.3 366.0,1187.9 372.0,1188.6 378.0,1189.3 384.0,1190.1 389.9,1190.9 395.9,1191.7 401.9,1192.5 407.8,1193.3 413.8,1194.1 419.8,1194.9 425.8,1195.6 431.7,1196.3 437.7,1197.0 443.7,1197.8 449.7,1198.5 455.6,1199.2 461.6,1199.9 467.6,1200.6 473.5,1201.2 479.5,1201.7 485.5,1202.1 491.5,1202.4 497.4,1202.7 503.4,1203.0 509.4,1203.2 515.4,1203.4 521.3,1203.6 527.3,1203.8 533.3,1204.0 539.2,1204.1 545.2,1204.3 551.2,1204.4 557.2,1204.6 563.1,1204.7 569.1,1204.8 575.1,1205.0 581.0,1205.1 587.0,1205.2 593.0,1205.3 599.0,1205.4 604.9,1205.5 610.9,1205.6 616.9,1205.7 622.9,1205.8 628.8,1205.9 634.8,1205.9 640.8,1206.0 646.7,1206.1 652.7,1206.1 658.7,1206.2 664.7,1206.3 670.6,1206.3 676.6,1206.4 682.6,1206.5 688.6,1206.5 694.5,1206.6 700.5,1206.6 706.5,1206.7 712.4,1206.7 718.4,1206.8 724.4,1206.8 730.4,1206.9 736.3,1206.9 742.3,1207.0 748.3,1207.0 754.3,1207.0 760.2,1207.1 766.2,1207.1 772.2,1207.1 778.1,1207.1 784.1,1207.2 790.1,1207.2 796.1,1207.2" fill="none" stroke="#000080" stroke-width="4" stroke-linejoin="round" stroke-linecap="butt"/>
<polyline points="150.8,1181.8 152.1,1181.8 153.4,1181.8 154.7,1181.8 156.0,1181.8 157.3,1181.8 158.7,1181.8 160.0,1181.8 161.3,1181.8 162.6,1181.8 163.9,1181.8 165.2,1181.8 166.6,1181.8 167.9,1181.7 169.2,1181.7 170.5,1181.7 171.8,1181.7 173.2,1181.7 174.5,1181.7 175.8,1181.7 177.1,1181.7 178.4,1181.7 179.7,1181.6 181.1,1181.6 182.4,1181.6 183.7,1181.6 185.0,1181.6 186.3,1181.5 187.7,1181.5 189.0,1181.5 190.3,1181.5 191.6,1181.4 192.9,1181.4 194.2,1181.4 195.6,1181.3 196.9,1181.3 198.2,1181.3 199.5,1181.2 200.8,1181.2 202.2,1181.1 203.5,1181.0 204.8,1181.0 206.1,1180.9 207.4,1180.8 208.7,1180.8 210.1,1180.7 211.4,1180.6 212.7,1180.5 214.0,1180.4 215.3,1180.3 216.7,1180.2 218.0,1180.1 219.3,1179.9 220.6,1179.8 221.9,1179.7 223.2,1179.5 224.6,1179.4 225.9,1179.2 227.2,1179.0 228.5,1178.8 229.8,1178.6 231.2,1178.4 232.5,1178.2 233.8,1177.9 235.1,1177.7 236.4,1177.4 237.7,1177.1 239.1,1176.8 240.4,1176.5 241.7,1176.1 243.0,1175.8 244.3,1175.4 245.7,1175.0 247.0,1174.5 248.3,1174.1 249.6,1173.6 250.9,1173.1 252.2,1172.6 253.6,1172.0 254.9,1171.4 256.2,1170.8 257.5,1170.1 258.8,1169.4 260.2,1168.7 261.5,1167.9 262.8,1167.1 264.1,1166.2 265.4,1165.3 266.7,1164.4 268.1,1163.4 269.4,1162.4 270.7,1161.3 272.0,1160.2 273.3,1159.0 274.6,1157.7 276.0,1156.4 277.3,1155.1 278.6,1153.7 279.9,1152.2 281.2,1150.6 282.6,1149.0 283.9,1147.3 285.2,1145.6 286.5,1143.8 287.8,1141.9 289.1,1139.9 290.5,1137.8 291.8,1135.7 293.1,1133.5 294.4,1131.2 295.7,1128.8 297.1,1126.3 298.4,1123.8 299.7,1121.2 301.0,1118.4 302.3,1115.6 303.6,1112.7 305.0,1109.7 306.3,1106.6 307.6,1103.4 308.9,1100.1 310.2,1096.7 311.6,1093.1 312.9,1089.5 314.2,1085.8 315.5,1082.0 316.8,1078.1 318.1,1074.1 319.5,1070.0 320.8,1065.7 322.1,1061.4 323.4,1057.0 324.7,1052.4 326.1,1047.8 327.4,1043.1 328.7,1038.2 330.0,1033.3 331.3,1028.3 332.6,1023.1 334.0,1017.9 335.3,1012.6 336.6,1007.2 337.9,1001.7 339.2,996.2 340.6,990.6 341.9,984.9 343.2,979.1 344.5,973.3 345.8,967.4 347.1,961.4 348.5,955.4 349.8,949.4 351.1,943.3 352.4,937.2 353.7,931.0 355.1,924.9 356.4,918.7 357.7,912.5 359.0,906.3 360.3,900.1 361.6,894.0 363.0,887.9 364.3,881.8 365.6,875.7 366.9,869.7 368.2,863.8 369.6,857.9 370.9,852.1 372.2,846.3 373.5,840.7 374.8,835.1 376.1,829.7 377.5,824.3 378.8,819.1 380.1,814.0 381.4,809.1 382.7,804.2 384.1,799.6 385.4,795.1 386.7,790.7 388.0,786.6 389.3,782.6 390.6,778.8 392.0,775.2 393.3,771.8 394.6,768.6 395.9,765.6 397.2,762.9 398.5,760.3 399.9,758.0 401.2,755.9 402.5,754.1 403.8,752.5 405.1,751.1 406.5,750.0 407.8,749.1 409.1,748.4 410.4,748.1 411.7,747.9 413.0,748.0 414.4,748.4 415.7,749.0 417.0,749.8 418.3,750.9 419.6,752.2 421.0,753.8 422.3,755.6 423.6,757.6 424.9,759.9 426.2,762.4 427.5,765.1 428.9,768.0 430.2,771.1 431.5,774.5 432.8,778.1 434.1,781.8 435.5,785.7 436.8,789.9 438.1,794.1 439.4,798.6 440.7,803.2 442.0,808.0 443.4,812.9 444.7,817.9 446.0,823.1 447.3,828.4 448.6,833.7 450.0,839.2 451.3,844.8 452.6,850.5 453.9,856.2 455.2,862.0 456.5,867.8 457.9,873.7 459.2,879.7 460.5,885.6 461.8,891.6 463.1,897.6 464.5,903.6 465.8,909.6 467.1,915.6 468.4,921.5 469.7,927.5 471.0,933.4 472.4,939.3 473.7,945.1 475.0,950.9 476.3,956.6 477.6,962.2 479.0,967.8 480.3,973.3 481.6,978.7 482.9,984.1 484.2,989.3 485.5,994.5 486.9,999.6 488.2,1004.5 489.5,1009.4 490.8,1014.1 492.1,1018.8 493.5,1023.3 494.8,1027.7 496.1,1032.0 497.4,1036.2 498.7,1040.3 500.0,1044.3 501.4,1048.2 502.7,1051.9 504.0,1055.5 505.3,1059.0 506.6,1062.4 507.9,1065.7 509.3,1068.9 510.6,1071.9 511.9,1074.8 513.2,1077.6 514.5,1080.3 515.9,1082.9 517.2,1085.4 518.5,1087.8 519.8,1090.1 521.1,1092.2 522.4,1094.3 523.8,1096.3 525.1,1098.2 526.4,1099.9 527.7,1101.6 529.0,1103.2 530.4,1104.7 531.7,1106.2 533.0,1107.5 534.3,1108.8 535.6,1110.0 536.9,1111.1 538.3,1112.2 539.6,1113.2 540.9,1114.1 542.2,1115.0 543.5,1115.8 544.9,1116.6 546.2,1117.3 547.5,1118.0 548.8,1118.6 550.1,1119.2 551.4,1119.8 552.8,1120.3 554.1,1120.8 555.4,1121.2 556.7,1121.7 558.0,1122.1 559.4,1122.4 560.7,1122.8 562.0,1123.2 563.3,1123.5 564.6,1123.8 565.9,1124.2 567.3,1124.5 568.6,1124.8 569.9,1125.1 571.2,1125.4 572.5,1125.7 573.9,1126.0 575.2,1126.3 576.5,1126.7 577.8,1127.0 579.1,1127.3 580.4,1127.7 581.8,1128.1 583.1,1128.4 584.4,1128.8 585.7,1129.2 587.0,1129.7 588.4,1130.1 589.7,1130.6 591.0,1131.0 592.3,1131.5 593.6,1132.1 594.9,1132.6 596.3,1133.2 597.6,1133.7 598.9,1134.3 600.2,1134.9 601.5,1135.6 602.9,1136.2 604.2,1136.9 605.5,1137.6 606.8,1138.3 608.1,1139.1 609.4,1139.8 610.8,1140.6 612.1,1141.4 613.4,1142.2 614.7,1143.0 616.0,1143.8 617.4,1144.7 618.7,1145.6 620.0,1146.4 621.3,1147.3 622.6,1148.2 623.9,1149.2 625.3,1150.1 626.6,1151.0 627.9,1151.9 629.2,1152.9 630.5,1153.9 631.8,1154.8 633.2,1155.8 634.5,1156.7 635.8,1157.7 637.1,1158.7 638.4,1159.7 639.8,1160.6 641.1,1161.6 642.4,1162.6 643.7,1163.6 645.0,1164.5 646.3,1165.5 647.7,1166.5 649.0,1167.4 650.3,1168.4 651.6,1169.3 652.9,1170.2 654.3,1171.2 655.6,1172.1 656.9,1173.0 658.2,1173.9 659.5,1174.8 660.8,1175.7 662.2,1176.5 663.5,1177.4 664.8,1178.2 666.1,1179.1 667.4,1179.9 668.8,1180.7 670.1,1181.5 671.4,1182.3 672.7,1183.0 674.0,1183.8 675.3,1184.5 676.7,1185.2 678.0,1185.9 679.3,1186.6 680.6,1187.3 681.9,1188.0 683.3,1188.6 684.6,1189.3 685.9,1189.9 687.2,1190.5 688.5,1191.1 689.8,1191.6 691.2,1192.2 692.5,1192.7 693.8,1193.3 695.1,1193.8 696.4,1194.3 697.8,1194.8 699.1,1195.3 700.4,1195.7 701.7,1196.2 703.0,1196.6 704.3,1197.0 705.7,1197.4 707.0,1197.8 708.3,1198.2 709.6,1198.6 710.9,1198.9 712.3,1199.3 713.6,1199.6 714.9,1199.9 716.2,1200.2 717.5,1200.5 718.8,1200.8 720.2,1201.1 721.5,1201.4 722.8,1201.6 724.1,1201.9 725.4,1202.1 726.8,1202.3 728.1,1202.6 729.4,1202.8 730.7,1203.0 732.0,1203.2 733.3,1203.4 734.7,1203.5 736.0,1203.7 737.3,1203.9 738.6,1204.0 739.9,1204.2 741.2,1204.3 742.6,1204.5 743.9,1204.6 745.2,1204.8 746.5,1204.9 747.8,1205.0 749.2,1205.1 750.5,1205.2 751.8,1205.3 753.1,1205.4 754.4,1205.5 755.7,1205.6 757.1,1205.7 758.4,1205.8 759.7,1205.8 761.0,1205.9 762.3,1206.0 763.7,1206.1 765.0,1206.1 766.3,1206.2 767.6,1206.2 768.9,1206.3 770.2,1206.3 771.6,1206.4 772.9,1206.4 774.2,1206.5 775.5,1206.5 776.8,1206.6 778.2,1206.6 779.5,1206.6 780.8,1206.7 782.1,1206.7 783.4,1206.7 784.7,1206.8 786.1,1206.8 787.4,1206.8 788.7,1206.9 790.0,1206.9 791.3,1206.9 792.7,1206.9 794.0,1206.9 795.3,1207.0 796.6,1207.0 797.9,1207.0 799.2,1207.0 800.6,1207.0 801.9,1207.1 803.2,1207.1 804.5,1207.1 805.8,1207.1 807.2,1207.1 808.5,1207.1 809.8,1207.1 816.1,1207.0 823.6,1214.2 837.9,1191.6 843.2,1202.1 857.9,1211.2 877.8,1200.6 886.1,1216.1 892.1,1196.9 899.6,1227.7 906.4,1196.9" fill="none" stroke="#008000" stroke-width="4" stroke-linejoin="round"/>
<text transform="translate(528.30 1300.50) scale(1 1.02)" text-anchor="middle" style="font-size:35.15px">Binding Energy (eV)</text>
<text transform="translate(49.70 902.80) rotate(-90) scale(1 1.03)" text-anchor="middle" style="font-size:35.3px">Intensity (a.u.)</text>
<text transform="translate(594.70 715.50) scale(1 1.06)" text-anchor="middle" font-weight="bold" style="font-size:43.3px">O 1s GN-CU</text>
<line x1="727" x2="804.7" y1="765.8" y2="765.8" stroke="#ff0000" stroke-width="4" stroke-linecap="round"/>
<text transform="translate(816 776.8) scale(1 1.07)">O 1s</text>
<line x1="727" x2="804.7" y1="809" y2="809" stroke="#0000ff" stroke-width="4" stroke-linecap="round"/>
<text transform="translate(816 820) scale(1 1.07)">O 1s</text>
<rect x="150.75" y="1327.80" width="755.15" height="558.30" fill="none" stroke="#000" stroke-width="3.0"/>
<path d="M219.40 1886.10v7.5M356.70 1886.10v7.5M494.00 1886.10v7.5M631.30 1886.10v7.5M768.60 1886.10v7.5M905.90 1886.10v7.5M150.75 1886.10v4.5M288.05 1886.10v4.5M425.35 1886.10v4.5M562.65 1886.10v4.5M699.95 1886.10v4.5M837.25 1886.10v4.5M150.75 1327.80h-7.5M150.75 1451.76h-7.5M150.75 1575.71h-7.5M150.75 1699.67h-7.5M150.75 1823.63h-7.5M150.75 1389.78h-4.5M150.75 1513.73h-4.5M150.75 1637.69h-4.5M150.75 1761.65h-4.5M150.75 1885.60h-4.5" stroke="#000" stroke-width="3.0" fill="none"/>
<text transform="translate(218.40 1923.10) scale(1 1.07)" text-anchor="middle">536</text>
<text transform="translate(355.70 1923.10) scale(1 1.07)" text-anchor="middle">534</text>
<text transform="translate(493.00 1923.10) scale(1 1.07)" text-anchor="middle">532</text>
<text transform="translate(630.30 1923.10) scale(1 1.07)" text-anchor="middle">530</text>
<text transform="translate(767.60 1923.10) scale(1 1.07)" text-anchor="middle">528</text>
<text transform="translate(904.90 1923.10) scale(1 1.07)" text-anchor="middle">526</text>
<text transform="translate(140.25 1337.80) scale(1.012 1.07)" text-anchor="end">1,000</text>
<text transform="translate(140.25 1461.76) scale(1 1.07)" text-anchor="end">900</text>
<text transform="translate(140.25 1585.71) scale(1 1.07)" text-anchor="end">800</text>
<text transform="translate(140.25 1709.67) scale(1 1.07)" text-anchor="end">700</text>
<text transform="translate(140.25 1833.63) scale(1 1.07)" text-anchor="end">600</text>
<polyline points="315.5,1789.3 316.9,1789.4 318.3,1789.4 319.8,1789.5 321.2,1789.6 322.6,1789.6 324.0,1789.7 325.4,1789.7 326.9,1789.8 328.3,1789.8 329.7,1789.9 331.1,1789.9 332.5,1790.0 334.0,1790.1 335.4,1790.1 336.8,1790.2 338.2,1790.2 339.6,1790.3 341.0,1790.4 342.5,1790.4 343.9,1790.5 345.3,1790.5 346.7,1790.6 348.1,1790.6 349.6,1790.7 351.0,1790.7 352.4,1790.8 353.8,1790.8 355.2,1790.9 356.7,1790.9 358.1,1791.0 359.5,1791.0 360.9,1791.1 362.3,1791.1 363.7,1791.2 365.2,1791.2 366.6,1791.3 368.0,1791.3 369.4,1791.4 370.8,1791.4 372.3,1791.4 373.7,1791.5 375.1,1791.5 376.5,1791.6 377.9,1791.6 379.4,1791.6 380.8,1791.7 382.2,1791.7 383.6,1791.7 385.0,1791.7 386.4,1791.7 387.9,1791.7 389.3,1791.7 390.7,1791.7 392.1,1791.7 393.5,1791.7 395.0,1791.6 396.4,1791.6 397.8,1791.5 399.2,1791.5 400.6,1791.4 402.1,1791.3 403.5,1791.2 404.9,1791.1 406.3,1791.0 407.7,1790.9 409.1,1790.7 410.6,1790.5 412.0,1790.4 413.4,1790.2 414.8,1790.0 416.2,1789.7 417.7,1789.5 419.1,1789.2 420.5,1788.9 421.9,1788.6 423.3,1788.3 424.8,1787.9 426.2,1787.5 427.6,1787.1 429.0,1786.7 430.4,1786.3 431.8,1785.8 433.3,1785.3 434.7,1784.8 436.1,1784.3 437.5,1783.8 438.9,1783.2 440.4,1782.6 441.8,1781.9 443.2,1781.3 444.6,1780.6 446.0,1779.9 447.5,1779.1 448.9,1778.4 450.3,1777.6 451.7,1776.7 453.1,1775.9 454.5,1775.0 456.0,1774.0 457.4,1773.1 458.8,1772.1 460.2,1771.1 461.6,1770.0 463.1,1768.9 464.5,1767.8 465.9,1766.6 467.3,1765.4 468.7,1764.2 470.2,1763.0 471.6,1761.7 473.0,1760.4 474.4,1759.0 475.8,1757.6 477.2,1756.2 478.7,1754.8 480.1,1753.3 481.5,1751.8 482.9,1750.3 484.3,1748.8 485.8,1747.2 487.2,1745.6 488.6,1744.0 490.0,1742.4 491.4,1740.7 492.9,1739.0 494.3,1737.3 495.7,1735.6 497.1,1733.9 498.5,1732.2 499.9,1730.5 501.4,1728.7 502.8,1727.0 504.2,1725.3 505.6,1723.6 507.0,1721.8 508.5,1720.1 509.9,1718.4 511.3,1716.7 512.7,1715.0 514.1,1713.4 515.6,1711.7 517.0,1710.1 518.4,1708.5 519.8,1707.0 521.2,1705.4 522.6,1703.9 524.1,1702.5 525.5,1701.1 526.9,1699.7 528.3,1698.3 529.7,1697.0 531.2,1695.8 532.6,1694.6 534.0,1693.4 535.4,1692.3 536.8,1691.3 538.3,1690.3 539.7,1689.4 541.1,1688.6 542.5,1687.8 543.9,1687.0 545.4,1686.4 546.8,1685.8 548.2,1685.3 549.6,1684.8 551.0,1684.5 552.4,1684.1 553.9,1683.9 555.3,1683.8 556.7,1683.7 558.1,1683.7 559.5,1683.7 561.0,1683.9 562.4,1684.1 563.8,1684.4 565.2,1684.7 566.6,1685.2 568.1,1685.7 569.5,1686.2 570.9,1686.9 572.3,1687.6 573.7,1688.4 575.1,1689.2 576.6,1690.2 578.0,1691.1 579.4,1692.2 580.8,1693.3 582.2,1694.5 583.7,1695.7 585.1,1697.0 586.5,1698.3 587.9,1699.7 589.3,1701.1 590.8,1702.5 592.2,1704.1 593.6,1705.6 595.0,1707.2 596.4,1708.8 597.8,1710.5 599.3,1712.2 600.7,1713.9 602.1,1715.6 603.5,1717.4 604.9,1719.1 606.4,1720.9 607.8,1722.7 609.2,1724.6 610.6,1726.4 612.0,1728.2 613.5,1730.1 614.9,1731.9 616.3,1733.8 617.7,1735.6 619.1,1737.4 620.5,1739.3 622.0,1741.1 623.4,1742.9 624.8,1744.7 626.2,1746.5 627.6,1748.3 629.1,1750.0 630.5,1751.8 631.9,1753.5 633.3,1755.2 634.7,1756.9 636.2,1758.5 637.6,1760.1 639.0,1761.7 640.4,1763.3 641.8,1764.9 643.2,1766.4 644.7,1767.9 646.1,1769.3 647.5,1770.8 648.9,1772.2 650.3,1773.5 651.8,1774.9 653.2,1776.2 654.6,1777.4 656.0,1778.7 657.4,1779.9 658.9,1781.1 660.3,1782.2 661.7,1783.4 663.1,1784.4 664.5,1785.5 665.9,1786.5 667.4,1787.5 668.8,1788.5 670.2,1789.4 671.6,1790.3 673.0,1791.2 674.5,1792.0 675.9,1792.8 677.3,1793.6 678.7,1794.4 680.1,1795.1 681.6,1795.8 683.0,1796.5 684.4,1797.1 685.8,1797.8 687.2,1798.4 688.6,1798.9 690.1,1799.5 691.5,1800.0 692.9,1800.5 694.3,1801.0 695.7,1801.5 697.2,1802.0 698.6,1802.4 700.0,1802.8 701.4,1803.2 702.8,1803.6 704.3,1803.9 705.7,1804.3 707.1,1804.6 708.5,1804.9 709.9,1805.2 711.3,1805.5 712.8,1805.8 714.2,1806.0 715.6,1806.3 717.0,1806.5 718.4,1806.7 719.9,1806.9 721.3,1807.1 722.7,1807.3 724.1,1807.5 725.5,1807.7 727.0,1807.8 728.4,1808.0 729.8,1808.1 731.2,1808.3 732.6,1808.4 734.0,1808.5 735.5,1808.6 736.9,1808.7 738.3,1808.9 739.7,1808.9 741.1,1809.0" fill="none" stroke="#ff0000" stroke-width="4" stroke-linejoin="round" stroke-linecap="butt"/>
<polyline points="198.8,1787.8 200.3,1787.7 201.8,1787.7 203.3,1787.6 204.8,1787.6 206.2,1787.5 207.7,1787.5 209.2,1787.4 210.7,1787.3 212.2,1787.2 213.7,1787.2 215.2,1787.1 216.7,1787.0 218.1,1786.9 219.6,1786.7 221.1,1786.6 222.6,1786.5 224.1,1786.4 225.6,1786.2 227.1,1786.0 228.6,1785.9 230.0,1785.7 231.5,1785.5 233.0,1785.2 234.5,1785.0 236.0,1784.8 237.5,1784.5 239.0,1784.2 240.5,1783.9 241.9,1783.6 243.4,1783.2 244.9,1782.8 246.4,1782.4 247.9,1782.0 249.4,1781.5 250.9,1781.1 252.4,1780.5 253.8,1780.0 255.3,1779.4 256.8,1778.7 258.3,1778.1 259.8,1777.4 261.3,1776.6 262.8,1775.8 264.3,1774.9 265.7,1774.0 267.2,1773.1 268.7,1772.1 270.2,1771.0 271.7,1769.9 273.2,1768.7 274.7,1767.4 276.2,1766.1 277.6,1764.7 279.1,1763.2 280.6,1761.6 282.1,1760.0 283.6,1758.3 285.1,1756.5 286.6,1754.6 288.1,1752.6 289.5,1750.5 291.0,1748.3 292.5,1746.1 294.0,1743.7 295.5,1741.2 297.0,1738.6 298.5,1735.9 299.9,1733.1 301.4,1730.2 302.9,1727.1 304.4,1724.0 305.9,1720.7 307.4,1717.3 308.9,1713.8 310.4,1710.1 311.8,1706.3 313.3,1702.4 314.8,1698.4 316.3,1694.2 317.8,1689.9 319.3,1685.4 320.8,1680.8 322.3,1676.1 323.7,1671.3 325.2,1666.3 326.7,1661.2 328.2,1656.0 329.7,1650.6 331.2,1645.1 332.7,1639.5 334.2,1633.8 335.6,1628.0 337.1,1622.0 338.6,1616.0 340.1,1609.8 341.6,1603.5 343.1,1597.2 344.6,1590.8 346.1,1584.3 347.5,1577.7 349.0,1571.1 350.5,1564.4 352.0,1557.6 353.5,1550.8 355.0,1544.0 356.5,1537.2 358.0,1530.3 359.4,1523.5 360.9,1516.7 362.4,1509.9 363.9,1503.1 365.4,1496.4 366.9,1489.7 368.4,1483.1 369.9,1476.6 371.3,1470.2 372.8,1463.9 374.3,1457.7 375.8,1451.6 377.3,1445.7 378.8,1440.0 380.3,1434.3 381.8,1428.9 383.2,1423.7 384.7,1418.6 386.2,1413.8 387.7,1409.2 389.2,1404.8 390.7,1400.7 392.2,1396.8 393.7,1393.1 395.1,1389.8 396.6,1386.7 398.1,1383.9 399.6,1381.4 401.1,1379.2 402.6,1377.3 404.1,1375.6 405.6,1374.3 407.0,1373.4 408.5,1372.7 410.0,1372.3 411.5,1372.3 413.0,1372.6 414.5,1373.2 416.0,1374.1 417.5,1375.4 418.9,1376.9 420.4,1378.8 421.9,1380.9 423.4,1383.4 424.9,1386.2 426.4,1389.2 427.9,1392.5 429.4,1396.2 430.8,1400.0 432.3,1404.2 433.8,1408.6 435.3,1413.2 436.8,1418.1 438.3,1423.2 439.8,1428.5 441.3,1434.0 442.7,1439.7 444.2,1445.6 445.7,1451.6 447.2,1457.8 448.7,1464.2 450.2,1470.6 451.7,1477.2 453.2,1483.9 454.6,1490.7 456.1,1497.5 457.6,1504.4 459.1,1511.4 460.6,1518.4 462.1,1525.5 463.6,1532.6 465.1,1539.6 466.5,1546.7 468.0,1553.8 469.5,1560.8 471.0,1567.9 472.5,1574.8 474.0,1581.8 475.5,1588.7 477.0,1595.5 478.4,1602.2 479.9,1608.9 481.4,1615.4 482.9,1621.9 484.4,1628.3 485.9,1634.5 487.4,1640.7 488.9,1646.7 490.3,1652.7 491.8,1658.5 493.3,1664.1 494.8,1669.7 496.3,1675.1 497.8,1680.4 499.3,1685.5 500.8,1690.6 502.2,1695.4 503.7,1700.2 505.2,1704.8 506.7,1709.3 508.2,1713.6 509.7,1717.9 511.2,1721.9 512.6,1725.9 514.1,1729.7 515.6,1733.4 517.1,1736.9 518.6,1740.3 520.1,1743.6 521.6,1746.8 523.1,1749.9 524.5,1752.8 526.0,1755.6 527.5,1758.4 529.0,1761.0 530.5,1763.4 532.0,1765.8 533.5,1768.1 535.0,1770.3 536.4,1772.4 537.9,1774.4 539.4,1776.3 540.9,1778.1 542.4,1779.8 543.9,1781.5 545.4,1783.0 546.9,1784.5 548.3,1785.9 549.8,1787.3 551.3,1788.6 552.8,1789.8 554.3,1790.9 555.8,1792.0 557.3,1793.1 558.8,1794.0 560.2,1795.0 561.7,1795.8 563.2,1796.7 564.7,1797.4 566.2,1798.2 567.7,1798.9 569.2,1799.5 570.7,1800.1 572.1,1800.7 573.6,1801.3 575.1,1801.8 576.6,1802.3 578.1,1802.8 579.6,1803.2 581.1,1803.6 582.6,1804.0 584.0,1804.3 585.5,1804.7 587.0,1805.0 588.5,1805.3 590.0,1805.6 591.5,1805.8 593.0,1806.1 594.5,1806.3 595.9,1806.5 597.4,1806.7 598.9,1806.9 600.4,1807.1 601.9,1807.3 603.4,1807.4 604.9,1807.6 606.4,1807.7 607.8,1807.9 609.3,1808.0 610.8,1808.1 612.3,1808.2 613.8,1808.3 615.3,1808.4 616.8,1808.5 618.3,1808.6 619.7,1808.6 621.2,1808.7 622.7,1808.8 624.2,1808.9 625.7,1808.9 627.2,1809.0 628.7,1809.0 630.2,1809.1 631.6,1809.1 633.1,1809.1 634.6,1809.2 636.1,1809.2 637.6,1809.3 639.1,1809.3 640.6,1809.3 642.1,1809.4 643.5,1809.4 645.0,1809.4" fill="none" stroke="#0000ff" stroke-width="4" stroke-linejoin="round" stroke-linecap="butt"/>
<polyline points="205.7,1788.2 211.2,1788.2 216.7,1788.2 222.1,1788.2 227.6,1788.2 233.1,1788.2 238.6,1788.2 244.1,1788.3 249.6,1788.3 255.1,1788.3 260.6,1788.4 266.1,1788.4 271.6,1788.5 277.1,1788.5 282.6,1788.6 288.1,1788.7 293.5,1788.8 299.0,1788.9 304.5,1789.0 310.0,1789.2 315.5,1789.4 321.0,1789.6 326.5,1789.8 332.0,1790.1 337.5,1790.4 343.0,1790.7 348.5,1790.9 354.0,1791.2 359.4,1791.6 364.9,1791.9 370.4,1792.3 375.9,1792.8 381.4,1793.2 386.9,1793.8 392.4,1794.3 397.9,1794.8 403.4,1795.4 408.9,1796.0 414.4,1796.5 419.9,1797.1 425.4,1797.6 430.8,1798.1 436.3,1798.7 441.8,1799.3 447.3,1799.9 452.8,1800.5 458.3,1801.1 463.8,1801.7 469.3,1802.3 474.8,1802.8 480.3,1803.3 485.8,1803.8 491.3,1804.2 496.7,1804.6 502.2,1804.9 507.7,1805.3 513.2,1805.6 518.7,1805.9 524.2,1806.2 529.7,1806.4 535.2,1806.7 540.7,1806.9 546.2,1807.2 551.7,1807.4 557.2,1807.6 562.6,1807.8 568.1,1807.9 573.6,1808.1 579.1,1808.3 584.6,1808.4 590.1,1808.6 595.6,1808.7 601.1,1808.8 606.6,1809.0 612.1,1809.1 617.6,1809.2 623.1,1809.3 628.6,1809.3 634.0,1809.4 639.5,1809.5 645.0,1809.5 650.5,1809.6 656.0,1809.6 661.5,1809.7 667.0,1809.7 672.5,1809.8 678.0,1809.8 683.5,1809.9 689.0,1809.9 694.5,1810.0 700.0,1810.0 705.4,1810.1 710.9,1810.1 716.4,1810.1 721.9,1810.2 727.4,1810.2 732.9,1810.2 738.4,1810.2 743.9,1810.3 749.4,1810.3 754.9,1810.3" fill="none" stroke="#000080" stroke-width="4" stroke-linejoin="round" stroke-linecap="butt"/>
<polyline points="150.8,1788.2 152.0,1788.2 153.2,1788.2 154.5,1788.2 155.7,1788.2 157.0,1788.1 158.2,1788.1 159.5,1788.1 160.7,1788.1 162.0,1788.1 163.2,1788.1 164.5,1788.1 165.7,1788.1 167.0,1788.1 168.2,1788.1 169.5,1788.1 170.7,1788.1 172.0,1788.1 173.2,1788.1 174.5,1788.1 175.7,1788.1 177.0,1788.1 178.2,1788.1 179.5,1788.1 180.7,1788.0 182.0,1788.0 183.2,1788.0 184.5,1788.0 185.7,1788.0 187.0,1788.0 188.2,1788.0 189.5,1787.9 190.7,1787.9 192.0,1787.9 193.2,1787.9 194.5,1787.9 195.7,1787.8 197.0,1787.8 198.2,1787.8 199.5,1787.7 200.7,1787.7 202.0,1787.7 203.2,1787.6 204.5,1787.6 205.7,1787.5 207.0,1787.5 208.2,1787.4 209.5,1787.4 210.7,1787.3 212.0,1787.3 213.2,1787.2 214.5,1787.1 215.7,1787.0 217.0,1786.9 218.2,1786.9 219.5,1786.8 220.7,1786.7 222.0,1786.6 223.2,1786.4 224.5,1786.3 225.7,1786.2 227.0,1786.0 228.2,1785.9 229.5,1785.7 230.7,1785.6 232.0,1785.4 233.2,1785.2 234.5,1785.0 235.7,1784.8 237.0,1784.6 238.2,1784.4 239.5,1784.1 240.7,1783.8 242.0,1783.6 243.2,1783.3 244.5,1783.0 245.7,1782.6 247.0,1782.3 248.2,1781.9 249.5,1781.5 250.7,1781.1 252.0,1780.7 253.2,1780.2 254.5,1779.7 255.7,1779.2 257.0,1778.7 258.2,1778.1 259.5,1777.5 260.7,1776.9 261.9,1776.2 263.2,1775.6 264.4,1774.8 265.7,1774.1 266.9,1773.3 268.2,1772.4 269.4,1771.5 270.7,1770.6 271.9,1769.7 273.2,1768.7 274.4,1767.6 275.7,1766.5 276.9,1765.3 278.2,1764.1 279.4,1762.9 280.7,1761.5 281.9,1760.2 283.2,1758.7 284.4,1757.2 285.7,1755.7 286.9,1754.1 288.2,1752.4 289.4,1750.6 290.7,1748.8 291.9,1746.9 293.2,1745.0 294.4,1743.0 295.7,1740.9 296.9,1738.7 298.2,1736.4 299.4,1734.1 300.7,1731.7 301.9,1729.2 303.2,1726.6 304.4,1723.9 305.7,1721.2 306.9,1718.3 308.2,1715.4 309.4,1712.4 310.7,1709.3 311.9,1706.1 313.2,1702.8 314.4,1699.4 315.7,1695.9 316.9,1692.4 318.2,1688.7 319.4,1684.9 320.7,1681.1 321.9,1677.1 323.2,1673.1 324.4,1669.0 325.7,1664.7 326.9,1660.4 328.2,1656.0 329.4,1651.5 330.7,1646.9 331.9,1642.3 333.2,1637.5 334.4,1632.7 335.7,1627.7 336.9,1622.7 338.2,1617.7 339.4,1612.5 340.7,1607.3 341.9,1602.0 343.2,1596.6 344.4,1591.2 345.7,1585.8 346.9,1580.2 348.2,1574.7 349.4,1569.1 350.7,1563.4 351.9,1557.7 353.2,1552.0 354.4,1546.2 355.7,1540.5 356.9,1534.7 358.2,1528.9 359.4,1523.2 360.7,1517.4 361.9,1511.6 363.2,1505.9 364.4,1500.2 365.7,1494.5 366.9,1488.9 368.2,1483.3 369.4,1477.7 370.6,1472.3 371.9,1466.9 373.1,1461.5 374.4,1456.3 375.6,1451.1 376.9,1446.0 378.1,1441.0 379.4,1436.2 380.6,1431.4 381.9,1426.8 383.1,1422.3 384.4,1417.9 385.6,1413.7 386.9,1409.7 388.1,1405.7 389.4,1402.0 390.6,1398.4 391.9,1394.9 393.1,1391.7 394.4,1388.6 395.6,1385.7 396.9,1383.0 398.1,1380.5 399.4,1378.2 400.6,1376.1 401.9,1374.2 403.1,1372.5 404.4,1371.0 405.6,1369.7 406.9,1368.6 408.1,1367.8 409.4,1367.1 410.6,1366.7 411.9,1366.4 413.1,1366.4 414.4,1366.6 415.6,1367.0 416.9,1367.7 418.1,1368.5 419.4,1369.5 420.6,1370.8 421.9,1372.2 423.1,1373.8 424.4,1375.7 425.6,1377.7 426.9,1379.9 428.1,1382.3 429.4,1384.8 430.6,1387.6 431.9,1390.5 433.1,1393.5 434.4,1396.8 435.6,1400.1 436.9,1403.6 438.1,1407.3 439.4,1411.1 440.6,1415.0 441.9,1419.0 443.1,1423.1 444.4,1427.3 445.6,1431.6 446.9,1436.0 448.1,1440.5 449.4,1445.0 450.6,1449.7 451.9,1454.3 453.1,1459.0 454.4,1463.8 455.6,1468.6 456.9,1473.4 458.1,1478.2 459.4,1483.1 460.6,1487.9 461.9,1492.8 463.1,1497.6 464.4,1502.5 465.6,1507.3 466.9,1512.0 468.1,1516.8 469.4,1521.5 470.6,1526.2 471.9,1530.8 473.1,1535.3 474.4,1539.8 475.6,1544.3 476.9,1548.6 478.1,1552.9 479.4,1557.1 480.6,1561.3 481.8,1565.3 483.1,1569.3 484.3,1573.2 485.6,1577.0 486.8,1580.7 488.1,1584.3 489.3,1587.8 490.6,1591.2 491.8,1594.5 493.1,1597.7 494.3,1600.8 495.6,1603.8 496.8,1606.7 498.1,1609.5 499.3,1612.3 500.6,1614.9 501.8,1617.4 503.1,1619.8 504.3,1622.2 505.6,1624.4 506.8,1626.6 508.1,1628.6 509.3,1630.6 510.6,1632.5 511.8,1634.3 513.1,1636.0 514.3,1637.7 515.6,1639.3 516.8,1640.8 518.1,1642.2 519.3,1643.6 520.6,1644.9 521.8,1646.1 523.1,1647.3 524.3,1648.4 525.6,1649.5 526.8,1650.5 528.1,1651.5 529.3,1652.5 530.6,1653.4 531.8,1654.2 533.1,1655.1 534.3,1655.9 535.6,1656.7 536.8,1657.4 538.1,1658.2 539.3,1658.9 540.6,1659.6 541.8,1660.3 543.1,1661.0 544.3,1661.7 545.6,1662.4 546.8,1663.1 548.1,1663.8 549.3,1664.5 550.6,1665.2 551.8,1665.9 553.1,1666.6 554.3,1667.3 555.6,1668.1 556.8,1668.8 558.1,1669.6 559.3,1670.4 560.6,1671.3 561.8,1672.1 563.1,1673.0 564.3,1673.9 565.6,1674.8 566.8,1675.8 568.1,1676.8 569.3,1677.8 570.6,1678.8 571.8,1679.9 573.1,1681.0 574.3,1682.1 575.6,1683.3 576.8,1684.5 578.1,1685.7 579.3,1687.0 580.6,1688.2 581.8,1689.5 583.1,1690.9 584.3,1692.2 585.6,1693.6 586.8,1695.1 588.1,1696.5 589.3,1698.0 590.5,1699.4 591.8,1700.9 593.0,1702.5 594.3,1704.0 595.5,1705.6 596.8,1707.2 598.0,1708.8 599.3,1710.4 600.5,1712.0 601.8,1713.7 603.0,1715.3 604.3,1717.0 605.5,1718.6 606.8,1720.3 608.0,1722.0 609.3,1723.7 610.5,1725.3 611.8,1727.0 613.0,1728.7 614.3,1730.4 615.5,1732.1 616.8,1733.7 618.0,1735.4 619.3,1737.1 620.5,1738.7 621.8,1740.4 623.0,1742.0 624.3,1743.6 625.5,1745.3 626.8,1746.8 628.0,1748.4 629.3,1750.0 630.5,1751.6 631.8,1753.1 633.0,1754.6 634.3,1756.1 635.5,1757.6 636.8,1759.0 638.0,1760.5 639.3,1761.9 640.5,1763.3 641.8,1764.7 643.0,1766.0 644.3,1767.3 645.5,1768.6 646.8,1769.9 648.0,1771.2 649.3,1772.4 650.5,1773.6 651.8,1774.8 653.0,1776.0 654.3,1777.1 655.5,1778.2 656.8,1779.3 658.0,1780.3 659.3,1781.4 660.5,1782.4 661.8,1783.4 663.0,1784.3 664.3,1785.3 665.5,1786.2 666.8,1787.1 668.0,1787.9 669.3,1788.8 670.5,1789.6 671.8,1790.4 673.0,1791.1 674.3,1791.9 675.5,1792.6 676.8,1793.3 678.0,1794.0 679.3,1794.6 680.5,1795.3 681.8,1795.9 683.0,1796.5 684.3,1797.1 685.5,1797.6 686.8,1798.2 688.0,1798.7 689.3,1799.2 690.5,1799.7 691.8,1800.1 693.0,1800.6 694.3,1801.0 695.5,1801.4 696.8,1801.8 698.0,1802.2 699.2,1802.6 700.5,1802.9 701.7,1803.3 703.0,1803.6 704.2,1803.9 705.5,1804.2 706.7,1804.5 708.0,1804.8 709.2,1805.1 710.5,1805.3 711.7,1805.6 713.0,1805.8 714.2,1806.0 715.5,1806.3 716.7,1806.5 718.0,1806.7 719.2,1806.8 720.5,1807.0 721.7,1807.2 723.0,1807.4 724.2,1807.5 725.5,1807.7 726.7,1807.8 728.0,1807.9 729.2,1808.1 730.5,1808.2 731.7,1808.3 733.0,1808.4 734.2,1808.5 735.5,1808.6 736.7,1808.7 738.0,1808.8 739.2,1808.9 740.5,1809.0 741.7,1809.1 743.0,1809.2 744.2,1809.2 745.5,1809.3 746.7,1809.4 748.0,1809.4 749.2,1809.5 750.5,1809.5 751.7,1809.6 753.0,1809.6 754.2,1809.7 755.5,1809.7 756.7,1809.8 758.0,1809.8 759.2,1809.8 760.5,1809.9 761.7,1809.9 763.0,1809.9 764.2,1810.0 765.5,1810.0 766.7,1810.0 768.0,1810.0 769.2,1810.1 770.5,1810.1 771.7,1810.1 773.0,1810.1 774.2,1810.2 775.5,1810.2 781.5,1810.8 789.2,1834.9 795.7,1793.2 804.7,1807.8 810.7,1820.7 816.7,1827.6 824.1,1789.3 830.5,1826.7 837.8,1792.4 843.8,1832.8 851.6,1813.9 858.0,1822.9 864.5,1822.9 871.8,1828.9 878.7,1813.9 886.0,1822.5 892.4,1809.6 899.7,1825.9 906.2,1795.8" fill="none" stroke="#008000" stroke-width="4" stroke-linejoin="round"/>
<text transform="translate(528.30 1955.10) scale(1 1.02)" text-anchor="middle" style="font-size:35.15px">Binding Energy (eV)</text>
<text transform="translate(51.90 1560.50) rotate(-90) scale(1 1.03)" text-anchor="middle" style="font-size:35.4px">Intensity (a.u.)</text>
<text transform="translate(591.50 1376.20) scale(1 1.06)" text-anchor="middle" font-weight="bold" style="font-size:43.5px">O 1s GN-CE</text>
<line x1="726" x2="803.7" y1="1430" y2="1430" stroke="#ff0000" stroke-width="4" stroke-linecap="round"/>
<text transform="translate(815 1441) scale(1 1.07)">O 1s</text>
<line x1="726" x2="803.7" y1="1473.5" y2="1473.5" stroke="#0000ff" stroke-width="4" stroke-linecap="round"/>
<text transform="translate(815 1484.5) scale(1 1.07)">O 1s</text>
<rect x="1081.40" y="26.40" width="743.50" height="557.10" fill="none" stroke="#000" stroke-width="3.0"/>
<path d="M1081.40 583.50v7.5M1174.34 583.50v7.5M1267.28 583.50v7.5M1360.21 583.50v7.5M1453.15 583.50v7.5M1546.09 583.50v7.5M1639.03 583.50v7.5M1731.96 583.50v7.5M1824.90 583.50v7.5M1127.87 583.50v4.5M1220.81 583.50v4.5M1313.74 583.50v4.5M1406.68 583.50v4.5M1499.62 583.50v4.5M1592.56 583.50v4.5M1685.49 583.50v4.5M1778.43 583.50v4.5M1081.40 26.40h-7.5M1081.40 132.62h-7.5M1081.40 238.83h-7.5M1081.40 345.05h-7.5M1081.40 451.26h-7.5M1081.40 557.48h-7.5M1081.40 79.51h-4.5M1081.40 185.72h-4.5M1081.40 291.94h-4.5M1081.40 398.15h-4.5M1081.40 504.37h-4.5" stroke="#000" stroke-width="3.0" fill="none"/>
<text transform="translate(1080.40 620.50) scale(1 1.07)" text-anchor="middle">296</text>
<text transform="translate(1173.34 620.50) scale(1 1.07)" text-anchor="middle">294</text>
<text transform="translate(1266.28 620.50) scale(1 1.07)" text-anchor="middle">292</text>
<text transform="translate(1359.21 620.50) scale(1 1.07)" text-anchor="middle">290</text>
<text transform="translate(1452.15 620.50) scale(1 1.07)" text-anchor="middle">288</text>
<text transform="translate(1545.09 620.50) scale(1 1.07)" text-anchor="middle">286</text>
<text transform="translate(1638.03 620.50) scale(1 1.07)" text-anchor="middle">284</text>
<text transform="translate(1730.96 620.50) scale(1 1.07)" text-anchor="middle">282</text>
<text transform="translate(1823.90 620.50) scale(1 1.07)" text-anchor="middle">280</text>
<text transform="translate(1069.40 36.40) scale(0.978 1.07)" text-anchor="end">10,000</text>
<text transform="translate(1069.40 142.62) scale(0.978 1.07)" text-anchor="end">8,000</text>
<text transform="translate(1069.40 248.83) scale(0.978 1.07)" text-anchor="end">6,000</text>
<text transform="translate(1069.40 355.05) scale(0.978 1.07)" text-anchor="end">4,000</text>
<text transform="translate(1069.40 461.26) scale(0.978 1.07)" text-anchor="end">2,000</text>
<text transform="translate(1069.40 567.48) scale(1 1.07)" text-anchor="end">0</text>
<polyline points="1081.4,535.7 1084.7,535.2 1089.3,534.7 1093.9,534.5 1098.6,534.4 1103.2,534.2 1107.9,534.0 1112.5,533.8 1117.2,533.5 1121.8,533.3 1126.5,533.0 1131.1,532.7 1135.8,532.3 1140.4,531.8 1145.1,531.4 1149.7,530.9 1154.4,530.6 1159.0,530.4 1163.6,530.3 1168.3,530.2 1172.9,530.2 1177.6,530.0 1182.2,529.9 1186.9,529.7 1191.5,529.6 1196.2,529.6 1200.8,529.6 1205.5,529.5 1210.1,529.3 1214.8,529.0 1219.4,528.5 1224.1,528.0 1228.7,527.5 1233.4,526.9 1238.0,526.4 1242.6,525.7 1247.3,524.9 1251.9,524.1 1256.6,523.2 1261.2,522.3 1265.9,521.4 1270.5,520.5 1275.2,519.7 1279.8,519.0 1284.5,518.5 1289.1,518.1 1293.8,517.7 1298.4,517.4 1303.1,517.1 1307.7,516.7 1312.3,516.3 1317.0,515.9 1321.6,515.7 1326.3,515.8 1330.9,516.2 1335.6,516.8 1340.2,517.6 1344.9,518.5 1349.5,519.3 1354.2,520.0 1358.8,520.6 1363.5,520.9 1368.1,521.1 1372.8,521.0 1377.4,520.8 1382.1,520.6 1386.7,520.4 1391.3,520.4 1396.0,520.5 1400.6,520.7 1405.3,521.2 1409.9,521.9 1414.6,522.6 1419.2,523.3 1423.9,523.9 1428.5,524.3 1433.2,524.4 1437.8,524.1 1442.5,523.4 1447.1,522.4 1451.8,521.1 1456.4,519.6 1461.0,518.2 1465.7,517.0 1470.3,516.1 1475.0,515.7 1479.6,515.5 1484.3,515.2 1488.9,514.7 1493.6,514.0 1498.2,513.0 1502.9,511.5 1507.5,509.8 1512.2,507.7 1516.8,505.2 1521.5,502.5 1526.1,499.8 1530.8,497.2 1535.4,494.8 1540.0,492.2 1544.7,489.5 1549.3,485.9 1554.0,480.5 1558.6,472.5 1563.3,461.3 1567.9,447.6 1572.6,432.2 1577.2,415.3 1581.9,395.5 1586.5,369.5 1591.2,333.5 1595.8,285.3 1600.5,227.5 1605.1,169.0 1609.7,125.0 1614.4,111.2 1619.0,136.1 1623.7,192.7 1628.3,263.7 1633.0,334.5 1637.6,395.7 1642.3,443.2 1646.9,476.8 1651.6,499.7 1656.2,514.5 1660.9,525.3 1665.5,532.6 1670.2,538.2 1674.8,543.3 1679.5,548.0 1684.1,551.7 1688.7,552.7 1693.4,553.0 1698.0,553.3 1702.7,553.4 1707.3,553.5 1712.0,553.7 1716.6,553.8 1721.3,554.0 1725.9,554.1 1730.6,554.2 1735.2,554.2 1739.9,554.3 1744.5,554.3 1749.2,554.3 1753.8,554.3 1758.4,554.4 1763.1,554.4 1767.7,554.4 1772.4,554.4 1777.0,554.4 1781.7,554.5 1786.3,554.5 1791.0,554.5 1795.6,554.5 1800.3,554.5 1804.9,554.5 1809.6,554.6 1814.2,554.6 1818.9,554.6 1823.5,554.6 1824.9,554.6" fill="none" stroke="#000" stroke-width="1.8" stroke-linejoin="round" stroke-linecap="butt"/>
<polyline points="1489.5,538.1 1493.6,538.2 1498.2,538.2 1502.9,538.3 1507.5,538.3 1512.2,538.4 1516.8,538.4 1521.5,538.4 1526.1,538.5 1530.8,538.4 1535.4,538.4 1540.0,538.2 1544.7,537.8 1549.3,537.1 1554.0,535.7 1558.6,533.0 1563.3,528.4 1567.9,521.0 1572.6,509.6 1577.2,492.4 1581.9,467.3 1586.5,432.1 1591.2,384.7 1595.8,324.7 1600.5,255.3 1605.1,186.2 1609.7,133.9 1614.4,115.9 1619.0,139.5 1623.7,195.3 1628.3,265.6 1633.0,335.7 1637.6,396.1 1642.3,443.8 1646.9,479.3 1651.6,504.7 1656.2,522.1 1660.9,533.8 1665.5,541.3 1670.2,546.2 1674.8,549.2 1679.5,551.0 1684.1,552.0 1688.7,552.7 1693.4,553.0 1698.0,553.3 1702.7,553.4 1704.1,553.4" fill="none" stroke="#ff0000" stroke-width="4" stroke-linejoin="round" stroke-linecap="butt"/>
<polyline points="1469.2,537.6 1470.3,537.6 1475.0,537.7 1479.6,537.9 1484.3,538.0 1488.9,538.1 1493.6,538.2 1498.2,538.2 1502.9,538.3 1507.5,538.3 1512.2,538.4 1516.8,538.4 1521.5,538.4 1526.1,538.4 1530.8,538.3 1535.4,537.9 1540.0,537.0 1544.7,535.1 1549.3,531.6 1554.0,525.8 1558.6,517.6 1563.3,507.9 1567.9,498.5 1572.6,492.1 1577.2,490.5 1581.9,494.6 1586.5,502.9 1591.2,513.2 1595.8,523.0 1600.5,531.0 1605.1,537.0 1609.7,541.6 1614.4,545.8 1619.0,549.6 1623.7,551.8 1628.3,552.4 1633.0,552.6 1637.6,552.8 1642.3,552.8 1646.9,552.9 1651.6,553.0 1656.2,553.0 1660.9,553.1 1665.5,553.1 1670.2,553.2 1674.8,553.2 1679.5,553.3 1683.4,553.3" fill="none" stroke="#0000ff" stroke-width="4" stroke-linejoin="round" stroke-linecap="butt"/>
<polyline points="1352.7,535.2 1354.2,535.2 1358.8,535.3 1363.5,535.3 1368.1,535.3 1372.8,535.4 1377.4,535.4 1382.1,535.4 1386.7,535.5 1391.3,535.5 1396.0,535.6 1400.6,535.6 1405.3,535.7 1409.9,535.8 1414.6,535.9 1419.2,536.0 1423.9,536.1 1428.5,536.3 1433.2,536.4 1437.8,536.6 1442.5,536.7 1447.1,536.8 1451.8,536.9 1456.4,537.0 1461.0,537.1 1465.7,537.0 1470.3,536.9 1475.0,536.6 1479.6,536.0 1484.3,535.1 1488.9,533.8 1493.6,531.9 1498.2,529.5 1502.9,526.5 1507.5,522.8 1512.2,518.8 1516.8,514.5 1521.5,510.2 1526.1,506.4 1530.8,503.3 1535.4,501.4 1540.0,500.8 1544.7,501.8 1549.3,504.1 1554.0,507.5 1558.6,511.7 1563.3,516.2 1567.9,520.7 1572.6,525.0 1577.2,528.8 1581.9,532.1 1586.5,534.8 1591.2,537.0 1595.8,538.8 1600.5,540.3 1605.1,541.8 1609.7,543.8 1614.4,546.7 1619.0,549.9 1623.7,551.9 1628.3,552.4 1633.0,552.6 1637.6,552.7 1642.3,552.8 1646.9,552.9 1651.6,553.0 1656.2,553.0 1660.9,553.1 1665.5,553.1 1670.2,553.2 1674.8,553.2 1679.5,553.3 1684.1,553.3 1688.7,553.3 1693.4,553.4 1698.0,553.4 1702.7,553.5 1704.1,553.5" fill="none" stroke="#ff00ff" stroke-width="4" stroke-linejoin="round" stroke-linecap="butt"/>
<polyline points="1296.1,535.0 1298.4,535.0 1303.1,535.0 1307.7,535.0 1312.3,535.0 1317.0,535.0 1321.6,535.0 1326.3,535.1 1330.9,535.1 1335.6,535.1 1340.2,535.1 1344.9,535.2 1349.5,535.2 1354.2,535.2 1358.8,535.3 1363.5,535.3 1368.1,535.3 1372.8,535.4 1377.4,535.4 1382.1,535.4 1386.7,535.5 1391.3,535.5 1396.0,535.5 1400.6,535.5 1405.3,535.5 1409.9,535.4 1414.6,535.2 1419.2,535.0 1423.9,534.6 1428.5,533.9 1433.2,533.1 1437.8,531.9 1442.5,530.4 1447.1,528.7 1451.8,526.9 1456.4,525.1 1461.0,523.5 1465.7,522.2 1470.3,521.4 1475.0,521.3 1479.6,521.8 1484.3,523.0 1488.9,524.6 1493.6,526.5 1498.2,528.5 1502.9,530.5 1507.5,532.4 1512.2,534.0 1516.8,535.3 1521.5,536.3 1526.1,537.1 1530.8,537.7 1535.4,538.1 1540.0,538.5 1544.7,538.9 1549.3,539.3 1554.0,539.7 1558.6,539.9 1563.3,540.2 1567.9,540.3 1572.6,540.5 1577.2,540.7 1581.9,540.9 1586.5,541.1 1591.2,541.4 1595.8,541.7 1600.5,542.2 1605.1,543.0 1609.7,544.6 1614.4,547.1 1619.0,550.1 1623.7,552.0 1628.3,552.5 1633.0,552.7 1637.6,552.8 1642.3,552.8 1646.9,552.9 1651.6,553.0 1653.0,553.0" fill="none" stroke="#008000" stroke-width="4" stroke-linejoin="round" stroke-linecap="butt"/>
<polyline points="1187.8,534.9 1191.5,534.9 1196.2,534.9 1200.8,534.9 1205.5,534.9 1210.1,534.9 1214.8,534.9 1219.4,534.9 1224.1,534.9 1228.7,534.9 1233.4,534.9 1238.0,534.9 1242.6,534.9 1247.3,534.9 1251.9,534.9 1256.6,534.9 1261.2,534.9 1265.9,534.9 1270.5,534.9 1275.2,534.9 1279.8,535.0 1284.5,535.0 1289.1,535.0 1293.8,535.0 1298.4,535.0 1303.1,535.0 1307.7,534.9 1312.3,534.9 1317.0,534.8 1321.6,534.8 1326.3,534.6 1330.9,534.5 1335.6,534.2 1340.2,533.8 1344.9,533.4 1349.5,532.8 1354.2,532.0 1358.8,531.2 1363.5,530.2 1368.1,529.1 1372.8,528.1 1377.4,527.0 1382.1,526.2 1386.7,525.5 1391.3,525.1 1396.0,524.9 1400.6,525.2 1405.3,525.7 1409.9,526.5 1414.6,527.5 1419.2,528.7 1423.9,529.9 1428.5,531.2 1433.2,532.3 1437.8,533.4 1442.5,534.3 1447.1,535.1 1451.8,535.7 1456.4,536.2 1461.0,536.7 1465.7,537.0 1470.3,537.3 1475.0,537.6 1479.6,537.8 1484.3,537.9 1488.9,538.1 1493.6,538.2 1498.2,538.2 1502.9,538.3 1507.5,538.3 1512.2,538.4 1516.8,538.4 1521.5,538.5 1526.1,538.5 1530.8,538.6 1535.4,538.7 1540.0,538.8 1544.7,539.1 1549.3,539.4 1554.0,539.7 1558.6,540.0 1563.3,540.2 1567.9,540.3 1572.6,540.5 1577.2,540.7 1581.9,540.9 1586.5,541.1 1591.2,541.4 1595.8,541.7 1600.5,542.2 1604.2,542.8" fill="none" stroke="#000080" stroke-width="4" stroke-linejoin="round" stroke-linecap="butt"/>
<polyline points="1102.8,534.9 1103.2,534.9 1107.9,534.9 1112.5,534.9 1117.2,534.9 1121.8,534.9 1126.5,534.9 1131.1,534.9 1135.8,534.9 1140.4,534.9 1145.1,534.9 1149.7,534.9 1154.4,534.9 1159.0,534.9 1163.6,534.9 1168.3,534.9 1172.9,534.9 1177.6,534.9 1182.2,534.9 1186.9,534.9 1191.5,534.9 1196.2,534.9 1200.8,534.9 1205.5,534.9 1210.1,534.9 1214.8,534.9 1219.4,534.9 1224.1,534.9 1228.7,534.8 1233.4,534.8 1238.0,534.7 1242.6,534.6 1247.3,534.5 1251.9,534.3 1256.6,534.0 1261.2,533.6 1265.9,533.1 1270.5,532.4 1275.2,531.6 1279.8,530.6 1284.5,529.4 1289.1,528.1 1293.8,526.7 1298.4,525.2 1303.1,523.8 1307.7,522.4 1312.3,521.3 1317.0,520.4 1321.6,519.9 1326.3,519.7 1330.9,520.0 1335.6,520.6 1340.2,521.6 1344.9,522.9 1349.5,524.3 1354.2,525.8 1358.8,527.3 1363.5,528.7 1368.1,530.1 1372.8,531.2 1377.4,532.2 1382.1,533.1 1386.7,533.7 1391.3,534.3 1396.0,534.7 1400.6,535.0 1405.3,535.3 1409.9,535.5 1414.6,535.7 1419.2,535.9 1423.9,536.1 1428.5,536.2 1433.2,536.4 1437.8,536.6 1442.5,536.7 1447.1,536.9 1451.8,537.0 1456.4,537.2 1461.0,537.3 1465.7,537.5 1470.3,537.6 1475.0,537.7 1479.6,537.9 1484.3,538.0 1488.9,538.1 1493.6,538.2 1498.2,538.2 1502.9,538.3 1507.5,538.3 1512.2,538.4 1516.8,538.4 1521.5,538.5 1526.1,538.5 1530.8,538.6 1535.4,538.7 1540.0,538.8 1544.7,539.1 1548.9,539.4" fill="none" stroke="#8000ff" stroke-width="4" stroke-linejoin="round" stroke-linecap="butt"/>
<polyline points="1100.0,534.9 1103.2,534.9 1107.9,534.9 1112.5,534.9 1117.2,534.9 1121.8,534.9 1126.5,534.9 1131.1,534.9 1135.8,534.9 1140.4,534.9 1145.1,534.9 1149.7,534.9 1154.4,534.9 1159.0,534.9 1163.6,534.9 1168.3,534.9 1172.9,534.9 1177.6,534.9 1182.2,534.9 1186.9,534.9 1191.5,534.9 1196.2,534.8 1200.8,534.8 1205.5,534.7 1210.1,534.5 1214.8,534.3 1219.4,534.0 1224.1,533.7 1228.7,533.1 1233.4,532.5 1238.0,531.6 1242.6,530.7 1247.3,529.6 1251.9,528.5 1256.6,527.4 1261.2,526.4 1265.9,525.6 1270.5,525.1 1275.2,524.9 1279.8,525.1 1284.5,525.5 1289.1,526.3 1293.8,527.3 1298.4,528.4 1303.1,529.5 1307.7,530.6 1312.3,531.6 1317.0,532.4 1321.6,533.1 1326.3,533.7 1330.9,534.2 1335.6,534.5 1340.2,534.7 1344.9,534.9 1349.5,535.0 1354.2,535.1 1358.8,535.2 1363.5,535.3 1368.1,535.3 1372.8,535.4 1377.4,535.4 1382.1,535.4 1386.7,535.5 1391.3,535.5 1396.0,535.6 1400.6,535.6 1405.3,535.7 1409.9,535.8 1414.6,535.9 1419.2,536.0 1423.9,536.1 1428.5,536.3 1433.2,536.4 1437.8,536.6 1442.5,536.7 1447.1,536.9 1451.8,537.0 1456.4,537.2 1461.0,537.3 1465.7,537.5 1468.9,537.6" fill="none" stroke="#800080" stroke-width="4" stroke-linejoin="round" stroke-linecap="butt"/>
<polyline points="1100.0,534.9 1103.2,534.9 1107.9,534.9 1112.5,534.9 1117.2,534.9 1121.8,534.9 1126.5,534.9 1131.1,534.9 1135.8,534.9 1140.4,534.9 1145.1,534.9 1149.7,534.9 1154.4,534.9 1159.0,534.9 1163.6,534.9 1168.3,534.8 1172.9,534.8 1177.6,534.7 1182.2,534.5 1186.9,534.3 1191.5,534.1 1196.2,533.8 1200.8,533.4 1205.5,533.0 1210.1,532.7 1214.8,532.3 1219.4,532.1 1224.1,532.0 1228.7,532.0 1233.4,532.2 1238.0,532.5 1242.6,532.8 1247.3,533.2 1251.9,533.6 1256.6,533.9 1261.2,534.2 1265.9,534.4 1270.5,534.6 1275.2,534.7 1279.8,534.8 1284.5,534.9 1289.1,534.9 1293.8,535.0 1298.4,535.0 1303.1,535.0 1307.7,535.0 1312.3,535.0 1317.0,535.0 1321.6,535.0 1326.3,535.1 1330.9,535.1 1335.6,535.1 1340.2,535.1 1344.9,535.2 1349.5,535.2 1354.2,535.2 1358.8,535.3 1363.5,535.3 1368.1,535.3 1372.8,535.4 1377.4,535.4 1382.1,535.4 1386.7,535.5 1389.0,535.5" fill="none" stroke="#800000" stroke-width="4" stroke-linejoin="round" stroke-linecap="butt"/>
<polyline points="1100.0,534.9 1103.2,534.9 1107.9,534.9 1112.5,534.9 1117.2,534.9 1121.8,534.9 1126.5,534.9 1131.1,534.9 1135.8,534.9 1140.4,534.9 1145.1,534.9 1149.7,534.9 1154.4,534.9 1159.0,534.9 1163.6,534.9 1168.3,534.9 1172.9,534.9 1177.6,534.9 1182.2,534.9 1186.9,534.9 1191.5,534.9 1196.2,534.9 1200.8,534.9 1205.5,534.9 1210.1,534.9 1214.8,534.9 1219.4,534.9 1224.1,534.9 1228.7,534.9 1233.4,534.9 1238.0,534.9 1242.6,534.9 1247.3,534.9 1251.9,534.9 1256.6,534.9 1261.2,534.9 1265.9,534.9 1270.5,534.9 1275.2,534.9 1279.8,535.0 1284.5,535.0 1289.1,535.0 1293.8,535.0 1298.4,535.0 1303.1,535.0 1307.7,535.0 1312.3,535.0 1317.0,535.0 1321.6,535.0 1326.3,535.1 1330.9,535.1 1335.6,535.1 1340.2,535.1 1344.9,535.2 1349.5,535.2 1354.2,535.2 1358.8,535.3 1363.5,535.3 1368.1,535.3 1372.8,535.4 1377.4,535.4 1382.1,535.4 1386.7,535.5 1391.3,535.5 1396.0,535.6 1400.6,535.6 1405.3,535.7 1409.9,535.8 1414.6,535.9 1419.2,536.0 1423.9,536.1 1428.5,536.3 1433.2,536.4 1437.8,536.6 1442.5,536.7 1447.1,536.9 1451.8,537.0 1456.4,537.2 1461.0,537.3 1465.7,537.5 1470.3,537.6 1475.0,537.7 1479.6,537.9 1484.3,538.0 1488.9,538.1 1493.6,538.2 1498.2,538.2 1502.9,538.3 1507.5,538.3 1512.2,538.4 1516.8,538.4 1521.5,538.5 1526.1,538.5 1530.8,538.6 1535.4,538.7 1540.0,538.8 1544.7,539.1 1549.3,539.4 1554.0,539.7 1558.6,540.0 1563.3,540.2 1567.9,540.3 1572.6,540.5 1577.2,540.7 1581.9,540.9 1586.5,541.1 1591.2,541.4 1595.8,541.7 1600.5,542.2 1605.1,543.0 1609.7,544.6 1614.4,547.1 1619.0,550.1 1623.7,552.0 1628.3,552.5 1633.0,552.7 1637.6,552.8 1642.3,552.8 1646.9,552.9 1651.6,553.0 1656.2,553.0 1660.9,553.1 1665.5,553.1 1670.2,553.2 1674.8,553.2 1679.5,553.3 1684.1,553.3 1688.7,553.3 1693.4,553.4 1698.0,553.4 1702.7,553.5 1704.1,553.5" fill="none" stroke="#808000" stroke-width="4.3" stroke-linejoin="round" stroke-linecap="butt"/>
<polyline points="1081.4,535.7 1084.7,535.2 1089.3,534.7 1093.9,534.5 1098.6,534.4 1103.2,534.2 1107.9,534.0 1112.5,533.8 1117.2,533.5 1121.8,533.3 1126.5,533.0 1131.1,532.7 1135.8,532.3 1140.4,531.8 1145.1,531.4 1149.7,530.9 1154.4,530.6 1159.0,530.4 1163.6,530.3 1168.3,530.2 1172.9,530.2 1177.6,530.0 1182.2,529.9 1186.9,529.7 1191.5,529.6 1196.2,529.6 1200.8,529.6 1205.5,529.5 1210.1,529.3 1214.8,529.0 1219.4,528.5 1224.1,528.0 1228.7,527.5 1233.4,526.9 1238.0,526.4 1242.6,525.7 1247.3,524.9 1251.9,524.1 1256.6,523.2 1261.2,522.3 1265.9,521.4 1270.5,520.5 1275.2,519.7 1279.8,519.0 1284.5,518.5 1289.1,518.1 1293.8,517.7 1298.4,517.4 1303.1,517.1 1307.7,516.7 1312.3,516.3 1317.0,515.9 1321.6,515.7 1326.3,515.8 1330.9,516.2 1335.6,516.8 1340.2,517.6 1344.9,518.5 1349.5,519.3 1354.2,520.0 1358.8,520.6 1363.5,520.9 1368.1,521.1 1372.8,521.0 1377.4,520.8 1382.1,520.6 1386.7,520.4 1391.3,520.4 1396.0,520.5 1400.6,520.7 1405.3,521.2 1409.9,521.9 1414.6,522.6 1419.2,523.3 1423.9,523.9 1428.5,524.3 1433.2,524.4 1437.8,524.1 1442.5,523.4 1447.1,522.4 1451.8,521.1 1456.4,519.6 1461.0,518.2 1465.7,517.0 1470.3,516.1 1475.0,515.7 1479.6,515.5 1484.3,515.2 1488.9,514.7 1493.6,514.0 1498.2,513.0 1502.9,511.5 1507.5,509.8 1512.2,507.7 1516.8,505.2 1521.5,502.5 1526.1,499.8 1530.8,497.2 1535.4,494.8 1540.0,492.2 1544.7,489.5 1549.3,485.9 1554.0,480.5 1558.6,472.5 1563.3,461.3 1567.9,447.6 1572.6,432.2 1577.2,415.3 1581.9,395.5 1586.5,369.5 1591.2,333.5 1595.8,285.3 1600.5,227.5 1605.1,169.0 1609.7,125.0 1614.4,111.2 1619.0,136.1 1623.7,192.7 1628.3,263.7 1633.0,334.5 1637.6,395.7 1642.3,443.8 1646.9,479.3 1651.6,504.7 1656.2,522.1 1660.9,533.8 1665.5,541.3 1670.2,546.2 1674.8,549.2 1679.5,551.0 1684.1,552.0 1688.7,552.7 1693.4,553.0 1698.0,553.3 1702.7,553.4 1707.3,553.5 1712.0,553.7 1716.6,553.8 1721.3,554.0 1725.9,554.1 1730.6,554.2 1735.2,554.2 1739.9,554.3 1744.5,554.3 1749.2,554.3 1753.8,554.3 1758.4,554.4 1763.1,554.4 1767.7,554.4 1772.4,554.4 1777.0,554.4 1781.7,554.5 1786.3,554.5 1791.0,554.5 1795.6,554.5 1800.3,554.5 1804.9,554.5 1809.6,554.6 1814.2,554.6 1818.9,554.6 1823.5,554.6 1824.9,554.6" fill="none" stroke="#2e68a8" stroke-width="4" stroke-linejoin="round" stroke-linecap="butt"/>
<text transform="translate(1469.20 653.80) scale(1 1.02)" text-anchor="middle" style="font-size:34.6px">Binding Energy (eV)</text>
<text transform="translate(966.20 259.50) rotate(-90) scale(1 1.03)" text-anchor="middle" style="font-size:34.95px">Intensity (a.u.)</text>
<text transform="translate(1462.70 72.30) scale(1 1.06)" text-anchor="middle" font-weight="bold" style="font-size:42.1px">C 1s GN</text>
<line x1="1121.5" x2="1197.6" y1="70.5" y2="70.5" stroke="#ff0000" stroke-width="4" stroke-linecap="round"/>
<text transform="translate(1208.8 81.5) scale(1 1.05)" style="font-size:34.5px">C-C sp<tspan style="font-size:22.3px" dy="-15.5">2</tspan></text>
<line x1="1121.5" x2="1197.6" y1="118.1" y2="118.1" stroke="#0000ff" stroke-width="4" stroke-linecap="round"/>
<text transform="translate(1208.8 129.1) scale(1 1.05)" style="font-size:34.5px">C=C sp<tspan style="font-size:22.3px" dy="-15.5">3</tspan></text>
<line x1="1121.5" x2="1197.6" y1="160.2" y2="160.2" stroke="#ff00ff" stroke-width="4" stroke-linecap="round"/>
<text transform="translate(1208.8 171.2) scale(1 1.07)" style="font-size:34.5px">C-O</text>
<line x1="1121.5" x2="1197.6" y1="203.2" y2="203.2" stroke="#008000" stroke-width="4" stroke-linecap="round"/>
<text transform="translate(1208.8 214.2) scale(1 1.07)" style="font-size:34.5px">C=O</text>
<line x1="1121.5" x2="1197.6" y1="245.1" y2="245.1" stroke="#000080" stroke-width="4" stroke-linecap="round"/>
<text transform="translate(1208.8 256.1) scale(1 1.07)" style="font-size:34.5px">COOR</text>
<line x1="1121.5" x2="1197.6" y1="291.4" y2="291.4" stroke="#8000ff" stroke-width="4" stroke-linecap="round"/>
<text transform="translate(1208.8 302.4) scale(1 0.74)" style="font-size:34.5px" font-family="Liberation Serif, serif"><tspan font-family="Liberation Serif, serif">π</tspan></text>
<text transform="translate(1234.7 302.4) scale(1 1.0)" style="font-size:34.5px">electrons</text>
<line x1="1121.5" x2="1197.6" y1="339.2" y2="339.2" stroke="#800080" stroke-width="4" stroke-linecap="round"/>
<text transform="translate(1208.8 350.2) scale(1 1.0)" style="font-size:34.5px">sp<tspan style="font-size:22.3px" dy="-15.5">2</tspan><tspan dy="15.5"> </tspan>loss shakeup</text>
<line x1="1121.5" x2="1197.6" y1="385.9" y2="385.9" stroke="#800000" stroke-width="4" stroke-linecap="round"/>
<text transform="translate(1208.8 396.9) scale(1 1.0)" style="font-size:34.5px">sp<tspan style="font-size:22.3px" dy="-15.5">2</tspan><tspan dy="15.5"> </tspan>loss shakeup</text>
<rect x="1081.40" y="670.60" width="743.50" height="557.60" fill="none" stroke="#000" stroke-width="3.0"/>
<path d="M1081.40 1228.20v7.5M1174.34 1228.20v7.5M1267.28 1228.20v7.5M1360.21 1228.20v7.5M1453.15 1228.20v7.5M1546.09 1228.20v7.5M1639.03 1228.20v7.5M1731.96 1228.20v7.5M1824.90 1228.20v7.5M1127.87 1228.20v4.5M1220.81 1228.20v4.5M1313.74 1228.20v4.5M1406.68 1228.20v4.5M1499.62 1228.20v4.5M1592.56 1228.20v4.5M1685.49 1228.20v4.5M1778.43 1228.20v4.5M1081.40 670.60h-7.5M1081.40 801.92h-7.5M1081.40 933.25h-7.5M1081.40 1064.57h-7.5M1081.40 1195.89h-7.5M1081.40 736.26h-4.5M1081.40 867.59h-4.5M1081.40 998.91h-4.5M1081.40 1130.23h-4.5" stroke="#000" stroke-width="3.0" fill="none"/>
<text transform="translate(1080.40 1265.20) scale(1 1.07)" text-anchor="middle">296</text>
<text transform="translate(1173.34 1265.20) scale(1 1.07)" text-anchor="middle">294</text>
<text transform="translate(1266.28 1265.20) scale(1 1.07)" text-anchor="middle">292</text>
<text transform="translate(1359.21 1265.20) scale(1 1.07)" text-anchor="middle">290</text>
<text transform="translate(1452.15 1265.20) scale(1 1.07)" text-anchor="middle">288</text>
<text transform="translate(1545.09 1265.20) scale(1 1.07)" text-anchor="middle">286</text>
<text transform="translate(1638.03 1265.20) scale(1 1.07)" text-anchor="middle">284</text>
<text transform="translate(1730.96 1265.20) scale(1 1.07)" text-anchor="middle">282</text>
<text transform="translate(1823.90 1265.20) scale(1 1.07)" text-anchor="middle">280</text>
<text transform="translate(1069.40 680.60) scale(0.978 1.07)" text-anchor="end">8,000</text>
<text transform="translate(1069.40 811.92) scale(0.978 1.07)" text-anchor="end">6,000</text>
<text transform="translate(1069.40 943.25) scale(0.978 1.07)" text-anchor="end">4,000</text>
<text transform="translate(1069.40 1074.57) scale(0.978 1.07)" text-anchor="end">2,000</text>
<text transform="translate(1069.40 1205.89) scale(1 1.07)" text-anchor="end">0</text>
<polyline points="1081.4,1172.8 1084.7,1172.1 1089.3,1171.1 1093.9,1170.9 1098.6,1170.7 1103.2,1170.5 1107.9,1170.3 1112.5,1170.1 1117.2,1169.9 1121.8,1169.6 1126.5,1169.3 1131.1,1169.1 1135.8,1168.9 1140.4,1168.7 1145.1,1168.5 1149.7,1168.4 1154.4,1168.3 1159.0,1168.2 1163.6,1168.1 1168.3,1168.0 1172.9,1167.9 1177.6,1167.7 1182.2,1167.6 1186.9,1167.4 1191.5,1167.1 1196.2,1166.8 1200.8,1166.6 1205.5,1166.2 1210.1,1165.9 1214.8,1165.6 1219.4,1165.2 1224.1,1164.8 1228.7,1164.4 1233.4,1163.9 1238.0,1163.4 1242.6,1162.7 1247.3,1162.0 1251.9,1161.3 1256.6,1160.5 1261.2,1159.8 1265.9,1159.1 1270.5,1158.4 1275.2,1157.9 1279.8,1157.4 1284.5,1156.9 1289.1,1156.4 1293.8,1155.9 1298.4,1155.3 1303.1,1154.8 1307.7,1154.2 1312.3,1153.7 1317.0,1153.5 1321.6,1153.4 1326.3,1153.6 1330.9,1154.1 1335.6,1154.8 1340.2,1155.8 1344.9,1156.8 1349.5,1157.8 1354.2,1158.6 1358.8,1159.3 1363.5,1159.7 1368.1,1159.8 1372.8,1159.6 1377.4,1159.1 1382.1,1158.5 1386.7,1157.7 1391.3,1156.9 1396.0,1156.2 1400.6,1155.6 1405.3,1155.3 1409.9,1155.1 1414.6,1155.1 1419.2,1155.3 1423.9,1155.5 1428.5,1155.7 1433.2,1155.9 1437.8,1155.8 1442.5,1155.4 1447.1,1154.9 1451.8,1153.9 1456.4,1152.4 1461.0,1150.5 1465.7,1148.6 1470.3,1146.8 1475.0,1145.0 1479.6,1143.1 1484.3,1141.1 1488.9,1139.1 1493.6,1137.2 1498.2,1135.2 1502.9,1133.2 1507.5,1131.2 1512.2,1129.2 1516.8,1127.1 1521.5,1124.9 1526.1,1122.6 1530.8,1120.1 1535.4,1117.5 1540.0,1114.9 1544.7,1112.5 1549.3,1110.2 1554.0,1107.6 1558.6,1104.8 1563.3,1101.4 1567.9,1095.9 1572.6,1086.7 1577.2,1071.3 1581.9,1047.3 1586.5,1013.3 1591.2,970.8 1595.8,922.9 1600.5,868.6 1605.1,810.0 1609.7,758.2 1614.4,725.8 1619.0,726.4 1623.7,764.7 1628.3,831.4 1633.0,908.8 1637.6,981.8 1642.3,1041.6 1646.9,1086.0 1651.6,1116.5 1656.2,1140.4 1660.9,1158.2 1665.5,1170.3 1670.2,1178.5 1674.8,1184.1 1679.5,1187.4 1684.1,1189.0 1688.7,1190.0 1693.4,1190.5 1698.0,1190.8 1702.7,1191.0 1707.3,1191.1 1712.0,1191.2 1716.6,1191.3 1721.3,1191.4 1725.9,1191.5 1730.6,1191.6 1735.2,1191.7 1739.9,1191.8 1744.5,1191.8 1749.2,1191.9 1753.8,1192.0 1758.4,1192.0 1763.1,1192.1 1767.7,1192.1 1772.4,1192.2 1777.0,1192.2 1781.7,1192.2 1786.3,1192.3 1791.0,1192.3 1795.6,1192.3 1800.3,1192.3 1804.9,1192.3 1809.6,1192.4 1814.2,1192.4 1818.9,1192.4 1823.5,1192.4 1824.9,1192.4" fill="none" stroke="#000" stroke-width="1.8" stroke-linejoin="round" stroke-linecap="butt"/>
<polyline points="1497.1,1175.3 1498.2,1175.3 1502.9,1175.4 1507.5,1175.4 1512.2,1175.5 1516.8,1175.7 1521.5,1175.9 1526.1,1176.1 1530.8,1176.3 1535.4,1176.5 1540.0,1176.5 1544.7,1176.3 1549.3,1175.9 1554.0,1175.2 1558.6,1173.8 1563.3,1171.4 1567.9,1167.6 1572.6,1161.5 1577.2,1151.9 1581.9,1137.0 1586.5,1114.7 1591.2,1082.9 1595.8,1039.3 1600.5,983.2 1605.1,917.3 1609.7,850.6 1614.4,798.9 1619.0,779.6 1623.7,800.9 1628.3,854.8 1633.0,923.6 1637.6,991.3 1642.3,1048.6 1646.9,1093.1 1651.6,1125.8 1656.2,1148.8 1660.9,1164.4 1665.5,1174.7 1670.2,1181.2 1674.8,1185.3 1679.5,1187.8 1684.1,1189.3 1688.7,1190.1 1693.4,1190.6 1698.0,1190.9 1702.7,1191.0 1704.1,1191.1" fill="none" stroke="#ff0000" stroke-width="4" stroke-linejoin="round" stroke-linecap="butt"/>
<polyline points="1492.8,1175.2 1493.6,1175.2 1498.2,1175.3 1502.9,1175.4 1507.5,1175.4 1512.2,1175.5 1516.8,1175.7 1521.5,1175.9 1526.1,1176.2 1530.8,1176.4 1535.4,1176.6 1540.0,1176.7 1544.7,1176.8 1549.3,1176.7 1554.0,1176.5 1558.6,1175.9 1563.3,1174.6 1567.9,1171.8 1572.6,1166.9 1577.2,1158.6 1581.9,1146.4 1586.5,1131.1 1591.2,1115.2 1595.8,1102.7 1600.5,1097.2 1605.1,1101.0 1609.7,1113.0 1614.4,1130.0 1619.0,1147.6 1623.7,1162.8 1628.3,1174.2 1633.0,1181.7 1637.6,1186.3 1642.3,1188.6 1646.9,1189.7 1651.6,1190.3 1656.2,1190.6 1660.9,1190.7 1665.5,1190.8 1670.2,1190.9 1674.8,1190.9 1679.5,1191.0 1684.1,1191.0 1688.7,1191.1 1693.4,1191.1 1698.0,1191.1 1702.7,1191.2 1704.1,1191.2" fill="none" stroke="#0000ff" stroke-width="4" stroke-linejoin="round" stroke-linecap="butt"/>
<polyline points="1271.7,1172.5 1275.2,1172.5 1279.8,1172.5 1284.5,1172.5 1289.1,1172.5 1293.8,1172.5 1298.4,1172.5 1303.1,1172.5 1307.7,1172.5 1312.3,1172.5 1317.0,1172.5 1321.6,1172.5 1326.3,1172.5 1330.9,1172.5 1335.6,1172.5 1340.2,1172.5 1344.9,1172.6 1349.5,1172.6 1354.2,1172.6 1358.8,1172.6 1363.5,1172.7 1368.1,1172.7 1372.8,1172.7 1377.4,1172.8 1382.1,1172.8 1386.7,1172.8 1391.3,1172.9 1396.0,1172.9 1400.6,1173.0 1405.3,1173.0 1409.9,1173.0 1414.6,1173.1 1419.2,1173.1 1423.9,1173.1 1428.5,1173.1 1433.2,1173.1 1437.8,1173.1 1442.5,1173.1 1447.1,1173.3 1451.8,1173.4 1456.4,1173.2 1461.0,1172.7 1465.7,1172.0 1470.3,1171.0 1475.0,1169.8 1479.6,1168.3 1484.3,1166.5 1488.9,1164.3 1493.6,1161.7 1498.2,1158.7 1502.9,1155.3 1507.5,1151.5 1512.2,1147.5 1516.8,1143.4 1521.5,1139.1 1526.1,1135.0 1530.8,1130.9 1535.4,1127.2 1540.0,1124.0 1544.7,1121.3 1549.3,1119.3 1554.0,1118.2 1558.6,1118.1 1563.3,1118.9 1567.9,1120.8 1572.6,1123.7 1577.2,1127.4 1581.9,1131.7 1586.5,1136.4 1591.2,1141.5 1595.8,1146.8 1600.5,1152.0 1605.1,1157.2 1609.7,1162.3 1614.4,1167.0 1619.0,1171.3 1623.7,1175.1 1628.3,1178.5 1633.0,1181.4 1637.6,1183.9 1642.3,1185.6 1646.9,1186.9 1651.6,1188.0 1656.2,1188.8 1660.9,1189.4 1665.5,1189.8 1670.2,1190.2 1674.8,1190.5 1679.5,1190.7 1684.1,1190.8 1688.7,1190.9 1693.4,1191.0 1698.0,1191.1 1702.7,1191.1 1704.1,1191.1" fill="none" stroke="#ff00ff" stroke-width="4" stroke-linejoin="round" stroke-linecap="butt"/>
<polyline points="1242.0,1172.5 1242.6,1172.5 1247.3,1172.5 1251.9,1172.5 1256.6,1172.5 1261.2,1172.5 1265.9,1172.5 1270.5,1172.5 1275.2,1172.5 1279.8,1172.5 1284.5,1172.5 1289.1,1172.5 1293.8,1172.5 1298.4,1172.5 1303.1,1172.5 1307.7,1172.5 1312.3,1172.5 1317.0,1172.5 1321.6,1172.5 1326.3,1172.5 1330.9,1172.5 1335.6,1172.5 1340.2,1172.5 1344.9,1172.6 1349.5,1172.6 1354.2,1172.6 1358.8,1172.6 1363.5,1172.7 1368.1,1172.7 1372.8,1172.7 1377.4,1172.7 1382.1,1172.7 1386.7,1172.7 1391.3,1172.6 1396.0,1172.6 1400.6,1172.4 1405.3,1172.2 1409.9,1172.0 1414.6,1171.6 1419.2,1171.1 1423.9,1170.4 1428.5,1169.6 1433.2,1168.6 1437.8,1167.4 1442.5,1166.1 1447.1,1164.9 1451.8,1163.6 1456.4,1161.8 1461.0,1159.9 1465.7,1158.1 1470.3,1156.4 1475.0,1154.8 1479.6,1153.7 1484.3,1152.9 1488.9,1152.5 1493.6,1152.6 1498.2,1153.3 1502.9,1154.3 1507.5,1155.8 1512.2,1157.5 1516.8,1159.6 1521.5,1161.7 1526.1,1163.9 1530.8,1166.1 1535.4,1168.1 1540.0,1169.8 1544.7,1171.3 1549.3,1172.6 1554.0,1173.6 1558.6,1174.5 1563.3,1175.2 1567.9,1175.9 1572.6,1176.7 1577.2,1177.5 1581.9,1178.3 1586.5,1179.1 1591.2,1179.9 1595.8,1180.7 1600.5,1181.6 1605.1,1182.6 1609.7,1183.8 1614.4,1185.0 1619.0,1186.1 1623.7,1187.1 1628.3,1188.1 1633.0,1188.9 1637.6,1189.7 1642.3,1190.1 1646.9,1190.3 1651.6,1190.5 1656.2,1190.6 1660.9,1190.7 1665.5,1190.8 1670.2,1190.9 1674.8,1190.9 1679.5,1191.0 1684.1,1191.0 1688.7,1191.1 1693.4,1191.1 1698.0,1191.1 1702.7,1191.2 1704.1,1191.2" fill="none" stroke="#008000" stroke-width="4" stroke-linejoin="round" stroke-linecap="butt"/>
<polyline points="1183.6,1172.5 1186.9,1172.5 1191.5,1172.5 1196.2,1172.5 1200.8,1172.5 1205.5,1172.5 1210.1,1172.5 1214.8,1172.5 1219.4,1172.5 1224.1,1172.5 1228.7,1172.5 1233.4,1172.5 1238.0,1172.5 1242.6,1172.5 1247.3,1172.5 1251.9,1172.5 1256.6,1172.5 1261.2,1172.5 1265.9,1172.5 1270.5,1172.5 1275.2,1172.5 1279.8,1172.5 1284.5,1172.4 1289.1,1172.4 1293.8,1172.4 1298.4,1172.4 1303.1,1172.4 1307.7,1172.4 1312.3,1172.4 1317.0,1172.3 1321.6,1172.3 1326.3,1172.2 1330.9,1172.0 1335.6,1171.8 1340.2,1171.5 1344.9,1171.2 1349.5,1170.7 1354.2,1170.0 1358.8,1169.3 1363.5,1168.4 1368.1,1167.3 1372.8,1166.2 1377.4,1164.9 1382.1,1163.7 1386.7,1162.5 1391.3,1161.5 1396.0,1160.7 1400.6,1160.1 1405.3,1159.9 1409.9,1160.0 1414.6,1160.5 1419.2,1161.2 1423.9,1162.3 1428.5,1163.5 1433.2,1164.8 1437.8,1166.2 1442.5,1167.6 1447.1,1169.2 1451.8,1170.7 1456.4,1171.8 1461.0,1172.6 1465.7,1173.3 1470.3,1173.8 1475.0,1174.2 1479.6,1174.5 1484.3,1174.8 1488.9,1174.9 1493.6,1175.1 1498.2,1175.2 1502.9,1175.3 1507.5,1175.4 1512.2,1175.5 1516.8,1175.7 1521.5,1175.9 1526.1,1176.1 1530.8,1176.4 1535.4,1176.6 1540.0,1176.7 1544.7,1176.8 1549.3,1176.9 1554.0,1176.9 1558.6,1177.0 1563.3,1177.0 1567.9,1177.2 1572.6,1177.7 1577.2,1178.2 1581.9,1178.8 1586.5,1179.4 1591.2,1180.1 1595.8,1180.9 1600.5,1181.7 1605.1,1182.7 1609.7,1183.8 1614.4,1185.0 1619.0,1186.1 1623.7,1187.1 1628.3,1188.1 1629.7,1188.3" fill="none" stroke="#000080" stroke-width="4" stroke-linejoin="round" stroke-linecap="butt"/>
<polyline points="1116.7,1172.5 1117.2,1172.5 1121.8,1172.5 1126.5,1172.5 1131.1,1172.5 1135.8,1172.5 1140.4,1172.5 1145.1,1172.5 1149.7,1172.5 1154.4,1172.5 1159.0,1172.5 1163.6,1172.5 1168.3,1172.5 1172.9,1172.5 1177.6,1172.5 1182.2,1172.5 1186.9,1172.5 1191.5,1172.5 1196.2,1172.5 1200.8,1172.5 1205.5,1172.5 1210.1,1172.5 1214.8,1172.4 1219.4,1172.4 1224.1,1172.4 1228.7,1172.4 1233.4,1172.4 1238.0,1172.4 1242.6,1172.3 1247.3,1172.2 1251.9,1172.0 1256.6,1171.8 1261.2,1171.5 1265.9,1171.1 1270.5,1170.6 1275.2,1169.9 1279.8,1169.0 1284.5,1168.0 1289.1,1166.8 1293.8,1165.4 1298.4,1164.0 1303.1,1162.6 1307.7,1161.3 1312.3,1160.2 1317.0,1159.3 1321.6,1158.8 1326.3,1158.8 1330.9,1159.1 1335.6,1159.8 1340.2,1160.9 1344.9,1162.2 1349.5,1163.6 1354.2,1165.0 1358.8,1166.4 1363.5,1167.7 1368.1,1168.9 1372.8,1169.8 1377.4,1170.6 1382.1,1171.3 1386.7,1171.8 1391.3,1172.2 1396.0,1172.5 1400.6,1172.7 1405.3,1172.8 1409.9,1173.0 1414.6,1173.1 1419.2,1173.1 1423.9,1173.2 1428.5,1173.3 1433.2,1173.4 1437.8,1173.5 1442.5,1173.7 1447.1,1174.2 1451.8,1174.6 1456.4,1174.8 1461.0,1174.9 1465.7,1175.0 1470.3,1175.0 1475.0,1175.1 1479.6,1175.1 1484.3,1175.2 1488.9,1175.2 1493.6,1175.2 1498.2,1175.3 1502.9,1175.4 1507.5,1175.4 1512.2,1175.5 1516.8,1175.7 1521.5,1175.9 1526.1,1176.2 1530.8,1176.4 1533.1,1176.5" fill="none" stroke="#8000ff" stroke-width="4" stroke-linejoin="round" stroke-linecap="butt"/>
<polyline points="1090.7,1172.5 1093.9,1172.5 1098.6,1172.5 1103.2,1172.5 1107.9,1172.5 1112.5,1172.5 1117.2,1172.5 1121.8,1172.5 1126.5,1172.5 1131.1,1172.5 1135.8,1172.5 1140.4,1172.5 1145.1,1172.5 1149.7,1172.5 1154.4,1172.5 1159.0,1172.5 1163.6,1172.5 1168.3,1172.5 1172.9,1172.4 1177.6,1172.4 1182.2,1172.4 1186.9,1172.4 1191.5,1172.4 1196.2,1172.4 1200.8,1172.3 1205.5,1172.2 1210.1,1172.1 1214.8,1171.9 1219.4,1171.6 1224.1,1171.3 1228.7,1170.8 1233.4,1170.2 1238.0,1169.6 1242.6,1168.8 1247.3,1168.0 1251.9,1167.2 1256.6,1166.5 1261.2,1165.9 1265.9,1165.4 1270.5,1165.2 1275.2,1165.3 1279.8,1165.6 1284.5,1166.1 1289.1,1166.8 1293.8,1167.5 1298.4,1168.3 1303.1,1169.1 1307.7,1169.8 1312.3,1170.5 1317.0,1171.0 1321.6,1171.4 1326.3,1171.8 1330.9,1172.0 1335.6,1172.2 1340.2,1172.3 1344.9,1172.4 1349.5,1172.5 1354.2,1172.6 1358.8,1172.6 1363.5,1172.7 1368.1,1172.7 1372.8,1172.7 1377.4,1172.8 1382.1,1172.8 1386.7,1172.8 1391.3,1172.9 1396.0,1172.9 1400.6,1173.0 1405.3,1173.0 1409.9,1173.1 1414.6,1173.1 1419.2,1173.2 1423.9,1173.2 1428.5,1173.3 1433.2,1173.4 1437.8,1173.5 1442.5,1173.7 1447.1,1174.2 1451.8,1174.6 1456.4,1174.8 1461.0,1174.9 1465.2,1175.0" fill="none" stroke="#800080" stroke-width="4" stroke-linejoin="round" stroke-linecap="butt"/>
<polyline points="1090.7,1172.5 1093.9,1172.5 1098.6,1172.5 1103.2,1172.5 1107.9,1172.5 1112.5,1172.5 1117.2,1172.5 1121.8,1172.5 1126.5,1172.5 1131.1,1172.5 1135.8,1172.5 1140.4,1172.4 1145.1,1172.4 1149.7,1172.4 1154.4,1172.4 1159.0,1172.4 1163.6,1172.4 1168.3,1172.3 1172.9,1172.3 1177.6,1172.2 1182.2,1172.0 1186.9,1171.9 1191.5,1171.7 1196.2,1171.5 1200.8,1171.3 1205.5,1171.1 1210.1,1171.0 1214.8,1170.9 1219.4,1170.8 1224.1,1170.8 1228.7,1170.9 1233.4,1171.0 1238.0,1171.2 1242.6,1171.4 1247.3,1171.6 1251.9,1171.8 1256.6,1172.0 1261.2,1172.1 1265.9,1172.2 1270.5,1172.3 1275.2,1172.3 1279.8,1172.4 1284.5,1172.4 1289.1,1172.4 1293.8,1172.4 1298.4,1172.4 1303.1,1172.4 1307.7,1172.5 1312.3,1172.5 1317.0,1172.5 1321.6,1172.5 1326.3,1172.5 1330.9,1172.5 1335.6,1172.5 1340.2,1172.5 1344.9,1172.6 1349.5,1172.6 1354.2,1172.6 1358.8,1172.6 1363.5,1172.7 1368.1,1172.7 1372.8,1172.7 1377.4,1172.8 1382.1,1172.8 1386.7,1172.8 1391.3,1172.9 1396.0,1172.9 1399.2,1173.0" fill="none" stroke="#800000" stroke-width="4" stroke-linejoin="round" stroke-linecap="butt"/>
<polyline points="1090.7,1172.5 1093.9,1172.5 1098.6,1172.5 1103.2,1172.5 1107.9,1172.5 1112.5,1172.5 1117.2,1172.5 1121.8,1172.5 1126.5,1172.5 1131.1,1172.5 1135.8,1172.5 1140.4,1172.5 1145.1,1172.5 1149.7,1172.5 1154.4,1172.5 1159.0,1172.5 1163.6,1172.5 1168.3,1172.5 1172.9,1172.5 1177.6,1172.5 1182.2,1172.5 1186.9,1172.5 1191.5,1172.5 1196.2,1172.5 1200.8,1172.5 1205.5,1172.5 1210.1,1172.5 1214.8,1172.5 1219.4,1172.5 1224.1,1172.5 1228.7,1172.5 1233.4,1172.5 1238.0,1172.5 1242.6,1172.5 1247.3,1172.5 1251.9,1172.5 1256.6,1172.5 1261.2,1172.5 1265.9,1172.5 1270.5,1172.5 1275.2,1172.5 1279.8,1172.5 1284.5,1172.5 1289.1,1172.5 1293.8,1172.5 1298.4,1172.5 1303.1,1172.5 1307.7,1172.5 1312.3,1172.5 1317.0,1172.5 1321.6,1172.5 1326.3,1172.5 1330.9,1172.5 1335.6,1172.5 1340.2,1172.5 1344.9,1172.6 1349.5,1172.6 1354.2,1172.6 1358.8,1172.6 1363.5,1172.7 1368.1,1172.7 1372.8,1172.7 1377.4,1172.8 1382.1,1172.8 1386.7,1172.8 1391.3,1172.9 1396.0,1172.9 1400.6,1173.0 1405.3,1173.0 1409.9,1173.1 1414.6,1173.1 1419.2,1173.2 1423.9,1173.2 1428.5,1173.3 1433.2,1173.4 1437.8,1173.5 1442.5,1173.7 1447.1,1174.2 1451.8,1174.6 1456.4,1174.8 1461.0,1174.9 1465.7,1175.0 1470.3,1175.0 1475.0,1175.1 1479.6,1175.1 1484.3,1175.2 1488.9,1175.2 1493.6,1175.2 1498.2,1175.3 1502.9,1175.4 1507.5,1175.4 1512.2,1175.5 1516.8,1175.7 1521.5,1175.9 1526.1,1176.2 1530.8,1176.4 1535.4,1176.6 1540.0,1176.7 1544.7,1176.8 1549.3,1176.9 1554.0,1176.9 1558.6,1177.0 1563.3,1177.0 1567.9,1177.2 1572.6,1177.7 1577.2,1178.2 1581.9,1178.8 1586.5,1179.4 1591.2,1180.1 1595.8,1180.9 1600.5,1181.7 1605.1,1182.7 1609.7,1183.8 1614.4,1185.0 1619.0,1186.1 1623.7,1187.1 1628.3,1188.1 1633.0,1188.9 1637.6,1189.8 1642.3,1190.1 1646.9,1190.3 1651.6,1190.5 1656.2,1190.6 1660.9,1190.7 1665.5,1190.8 1670.2,1190.9 1674.8,1190.9 1679.5,1191.0 1684.1,1191.0 1688.7,1191.1 1693.4,1191.1 1698.0,1191.1 1702.7,1191.2 1704.1,1191.2" fill="none" stroke="#808000" stroke-width="4.3" stroke-linejoin="round" stroke-linecap="butt"/>
<polyline points="1081.4,1172.8 1084.7,1172.1 1089.3,1171.1 1093.9,1170.9 1098.6,1170.7 1103.2,1170.5 1107.9,1170.3 1112.5,1170.1 1117.2,1169.9 1121.8,1169.6 1126.5,1169.3 1131.1,1169.1 1135.8,1168.9 1140.4,1168.7 1145.1,1168.5 1149.7,1168.4 1154.4,1168.3 1159.0,1168.2 1163.6,1168.1 1168.3,1168.0 1172.9,1167.9 1177.6,1167.7 1182.2,1167.6 1186.9,1167.4 1191.5,1167.1 1196.2,1166.8 1200.8,1166.6 1205.5,1166.2 1210.1,1165.9 1214.8,1165.6 1219.4,1165.2 1224.1,1164.8 1228.7,1164.4 1233.4,1163.9 1238.0,1163.4 1242.6,1162.7 1247.3,1162.0 1251.9,1161.3 1256.6,1160.5 1261.2,1159.8 1265.9,1159.1 1270.5,1158.4 1275.2,1157.9 1279.8,1157.4 1284.5,1156.9 1289.1,1156.4 1293.8,1155.9 1298.4,1155.3 1303.1,1154.8 1307.7,1154.2 1312.3,1153.7 1317.0,1153.5 1321.6,1153.4 1326.3,1153.6 1330.9,1154.1 1335.6,1154.8 1340.2,1155.8 1344.9,1156.8 1349.5,1157.8 1354.2,1158.6 1358.8,1159.3 1363.5,1159.7 1368.1,1159.8 1372.8,1159.6 1377.4,1159.1 1382.1,1158.5 1386.7,1157.7 1391.3,1156.9 1396.0,1156.2 1400.6,1155.6 1405.3,1155.3 1409.9,1155.1 1414.6,1155.1 1419.2,1155.3 1423.9,1155.5 1428.5,1155.7 1433.2,1155.9 1437.8,1155.8 1442.5,1155.4 1447.1,1154.9 1451.8,1153.9 1456.4,1152.4 1461.0,1150.5 1465.7,1148.6 1470.3,1146.8 1475.0,1145.0 1479.6,1143.1 1484.3,1141.1 1488.9,1139.1 1493.6,1137.2 1498.2,1135.2 1502.9,1133.2 1507.5,1131.2 1512.2,1129.2 1516.8,1127.1 1521.5,1124.9 1526.1,1122.6 1530.8,1120.1 1535.4,1117.5 1540.0,1114.9 1544.7,1112.5 1549.3,1110.2 1554.0,1107.6 1558.6,1104.8 1563.3,1101.4 1567.9,1095.9 1572.6,1086.7 1577.2,1071.3 1581.9,1047.3 1586.5,1013.3 1591.2,970.8 1595.8,922.9 1600.5,868.6 1605.1,810.0 1609.7,758.2 1614.4,725.8 1619.0,726.4 1623.7,764.7 1628.3,831.4 1633.0,908.8 1637.6,981.8 1642.3,1041.6 1646.9,1086.0 1651.6,1116.5 1656.2,1140.4 1660.9,1158.2 1665.5,1170.3 1670.2,1178.5 1674.8,1184.1 1679.5,1187.4 1684.1,1189.0 1688.7,1190.0 1693.4,1190.5 1698.0,1190.8 1702.7,1191.0 1707.3,1191.1 1712.0,1191.2 1716.6,1191.3 1721.3,1191.4 1725.9,1191.5 1730.6,1191.6 1735.2,1191.7 1739.9,1191.8 1744.5,1191.8 1749.2,1191.9 1753.8,1192.0 1758.4,1192.0 1763.1,1192.1 1767.7,1192.1 1772.4,1192.2 1777.0,1192.2 1781.7,1192.2 1786.3,1192.3 1791.0,1192.3 1795.6,1192.3 1800.3,1192.3 1804.9,1192.3 1809.6,1192.4 1814.2,1192.4 1818.9,1192.4 1823.5,1192.4 1824.9,1192.4" fill="none" stroke="#2e68a8" stroke-width="4" stroke-linejoin="round" stroke-linecap="butt"/>
<text transform="translate(1453.50 1299.80) scale(1 1.02)" text-anchor="middle" style="font-size:34.6px">Binding Energy (eV)</text>
<text transform="translate(968.30 903.80) rotate(-90) scale(1 1.03)" text-anchor="middle" style="font-size:34.95px">Intensity (a.u.)</text>
<text transform="translate(1512.20 715.30) scale(1 1.06)" text-anchor="middle" font-weight="bold" style="font-size:42.1px">C 1s GN-CU</text>
<line x1="1116.5" x2="1193" y1="752.3" y2="752.3" stroke="#ff0000" stroke-width="4" stroke-linecap="round"/>
<text transform="translate(1203 763.3) scale(1 1.05)" style="font-size:34.5px">C-C sp<tspan style="font-size:22.3px" dy="-15.5">2</tspan></text>
<line x1="1116.5" x2="1193" y1="799.6" y2="799.6" stroke="#0000ff" stroke-width="4" stroke-linecap="round"/>
<text transform="translate(1203 810.6) scale(1 1.05)" style="font-size:34.5px">C=C sp<tspan style="font-size:22.3px" dy="-15.5">3</tspan></text>
<line x1="1116.5" x2="1193" y1="841.2" y2="841.2" stroke="#ff00ff" stroke-width="4" stroke-linecap="round"/>
<text transform="translate(1203 852.2) scale(1 1.07)" style="font-size:34.5px">C-O</text>
<line x1="1116.5" x2="1193" y1="884" y2="884" stroke="#008000" stroke-width="4" stroke-linecap="round"/>
<text transform="translate(1203 895) scale(1 1.07)" style="font-size:34.5px">C=O</text>
<line x1="1116.5" x2="1193" y1="926.4" y2="926.4" stroke="#000080" stroke-width="4" stroke-linecap="round"/>
<text transform="translate(1203 937.4) scale(1 1.07)" style="font-size:34.5px">COOR</text>
<line x1="1116.5" x2="1193" y1="972.5" y2="972.5" stroke="#8000ff" stroke-width="4" stroke-linecap="round"/>
<text transform="translate(1203 983.5) scale(1 0.74)" style="font-size:34.5px" font-family="Liberation Serif, serif"><tspan font-family="Liberation Serif, serif">π</tspan></text>
<text transform="translate(1228.9 983.5) scale(1 1.0)" style="font-size:34.5px">electrons</text>
<line x1="1116.5" x2="1193" y1="1019.6" y2="1019.6" stroke="#800080" stroke-width="4" stroke-linecap="round"/>
<text transform="translate(1203 1030.6) scale(1 1.0)" style="font-size:34.5px">sp<tspan style="font-size:22.3px" dy="-15.5">2</tspan><tspan dy="15.5"> </tspan>loss shakeup</text>
<line x1="1116.5" x2="1193" y1="1067" y2="1067" stroke="#800000" stroke-width="4" stroke-linecap="round"/>
<text transform="translate(1203 1078) scale(1 1.0)" style="font-size:34.5px">sp<tspan style="font-size:22.3px" dy="-15.5">2</tspan><tspan dy="15.5"> </tspan>loss shakeup</text>
<rect x="1081.40" y="1327.80" width="743.50" height="558.30" fill="none" stroke="#000" stroke-width="3.0"/>
<path d="M1081.40 1886.10v7.5M1174.34 1886.10v7.5M1267.28 1886.10v7.5M1360.21 1886.10v7.5M1453.15 1886.10v7.5M1546.09 1886.10v7.5M1639.03 1886.10v7.5M1731.96 1886.10v7.5M1824.90 1886.10v7.5M1127.87 1886.10v4.5M1220.81 1886.10v4.5M1313.74 1886.10v4.5M1406.68 1886.10v4.5M1499.62 1886.10v4.5M1592.56 1886.10v4.5M1685.49 1886.10v4.5M1778.43 1886.10v4.5M1081.40 1327.80h-7.5M1081.40 1434.18h-7.5M1081.40 1540.57h-7.5M1081.40 1646.95h-7.5M1081.40 1753.33h-7.5M1081.40 1859.72h-7.5M1081.40 1380.99h-4.5M1081.40 1487.38h-4.5M1081.40 1593.76h-4.5M1081.40 1700.14h-4.5M1081.40 1806.53h-4.5" stroke="#000" stroke-width="3.0" fill="none"/>
<text transform="translate(1080.40 1923.10) scale(1 1.07)" text-anchor="middle">296</text>
<text transform="translate(1173.34 1923.10) scale(1 1.07)" text-anchor="middle">294</text>
<text transform="translate(1266.28 1923.10) scale(1 1.07)" text-anchor="middle">292</text>
<text transform="translate(1359.21 1923.10) scale(1 1.07)" text-anchor="middle">290</text>
<text transform="translate(1452.15 1923.10) scale(1 1.07)" text-anchor="middle">288</text>
<text transform="translate(1545.09 1923.10) scale(1 1.07)" text-anchor="middle">286</text>
<text transform="translate(1638.03 1923.10) scale(1 1.07)" text-anchor="middle">284</text>
<text transform="translate(1730.96 1923.10) scale(1 1.07)" text-anchor="middle">282</text>
<text transform="translate(1823.90 1923.10) scale(1 1.07)" text-anchor="middle">280</text>
<text transform="translate(1069.40 1337.80) scale(0.978 1.07)" text-anchor="end">10,000</text>
<text transform="translate(1069.40 1444.18) scale(0.978 1.07)" text-anchor="end">8,000</text>
<text transform="translate(1069.40 1550.57) scale(0.978 1.07)" text-anchor="end">6,000</text>
<text transform="translate(1069.40 1656.95) scale(0.978 1.07)" text-anchor="end">4,000</text>
<text transform="translate(1069.40 1763.33) scale(0.978 1.07)" text-anchor="end">2,000</text>
<text transform="translate(1069.40 1869.72) scale(1 1.07)" text-anchor="end">0</text>
<polyline points="1081.4,1838.2 1084.7,1839.5 1089.3,1838.3 1093.9,1837.2 1098.6,1837.0 1103.2,1836.8 1107.9,1836.7 1112.5,1836.6 1117.2,1836.2 1121.8,1835.8 1126.5,1835.5 1131.1,1835.4 1135.8,1835.3 1140.4,1835.3 1145.1,1835.3 1149.7,1835.2 1154.4,1835.2 1159.0,1835.2 1163.6,1835.1 1168.3,1835.1 1172.9,1835.1 1177.6,1835.1 1182.2,1835.0 1186.9,1835.0 1191.5,1834.9 1196.2,1834.7 1200.8,1834.4 1205.5,1834.2 1210.1,1833.9 1214.8,1833.6 1219.4,1833.2 1224.1,1832.7 1228.7,1832.1 1233.4,1831.5 1238.0,1830.8 1242.6,1830.3 1247.3,1829.8 1251.9,1829.3 1256.6,1828.8 1261.2,1828.2 1265.9,1827.6 1270.5,1827.0 1275.2,1826.3 1279.8,1825.6 1284.5,1825.0 1289.1,1824.4 1293.8,1823.9 1298.4,1823.3 1303.1,1822.8 1307.7,1822.3 1312.3,1821.8 1317.0,1821.4 1321.6,1821.3 1326.3,1821.4 1330.9,1821.8 1335.6,1822.2 1340.2,1822.7 1344.9,1823.1 1349.5,1823.4 1354.2,1823.7 1358.8,1823.8 1363.5,1824.0 1368.1,1824.0 1372.8,1824.2 1377.4,1824.3 1382.1,1824.6 1386.7,1824.8 1391.3,1825.1 1396.0,1825.4 1400.6,1825.5 1405.3,1825.6 1409.9,1825.7 1414.6,1825.6 1419.2,1825.5 1423.9,1825.4 1428.5,1825.3 1433.2,1825.1 1437.8,1824.7 1442.5,1824.2 1447.1,1823.5 1451.8,1822.6 1456.4,1821.5 1461.0,1820.5 1465.7,1819.4 1470.3,1818.2 1475.0,1816.8 1479.6,1815.5 1484.3,1814.3 1488.9,1812.9 1493.6,1811.2 1498.2,1809.2 1502.9,1807.0 1507.5,1805.3 1512.2,1802.5 1516.8,1799.3 1521.5,1795.9 1526.1,1792.5 1530.8,1789.2 1535.4,1786.2 1540.0,1783.8 1544.7,1781.8 1549.3,1779.7 1554.0,1776.8 1558.6,1773.2 1563.3,1767.4 1567.9,1758.5 1572.6,1745.5 1577.2,1726.2 1581.9,1699.4 1586.5,1664.8 1591.2,1623.6 1595.8,1577.4 1600.5,1526.0 1605.1,1473.3 1609.7,1432.2 1614.4,1417.7 1619.0,1439.5 1623.7,1489.2 1628.3,1556.6 1633.0,1627.4 1637.6,1688.7 1642.3,1737.4 1646.9,1774.6 1651.6,1801.6 1656.2,1820.3 1660.9,1833.3 1665.5,1841.9 1670.2,1847.3 1674.8,1850.3 1679.5,1852.0 1684.1,1853.0 1688.7,1853.6 1693.4,1854.0 1698.0,1854.2 1702.7,1854.3 1707.3,1854.4 1712.0,1854.7 1716.6,1854.9 1721.3,1855.2 1725.9,1855.5 1730.6,1855.7 1735.2,1855.8 1739.9,1856.0 1744.5,1856.2 1749.2,1856.3 1753.8,1856.5 1758.4,1856.6 1763.1,1856.7 1767.7,1856.8 1772.4,1856.9 1777.0,1857.0 1781.7,1857.1 1786.3,1857.2 1791.0,1857.3 1795.6,1857.3 1800.3,1857.4 1804.9,1857.4 1809.6,1857.5 1814.2,1857.6 1818.9,1857.6 1823.5,1857.7 1824.9,1857.7" fill="none" stroke="#000" stroke-width="1.8" stroke-linejoin="round" stroke-linecap="butt"/>
<polyline points="1493.9,1838.1 1498.2,1838.2 1502.9,1838.3 1507.5,1839.3 1512.2,1839.5 1516.8,1839.6 1521.5,1839.6 1526.1,1839.6 1530.8,1839.6 1535.4,1839.6 1540.0,1839.5 1544.7,1839.2 1549.3,1838.6 1554.0,1837.5 1558.6,1835.5 1563.3,1832.3 1567.9,1827.0 1572.6,1818.6 1577.2,1805.8 1581.9,1786.4 1586.5,1758.2 1591.2,1719.2 1595.8,1668.0 1600.5,1605.8 1605.1,1539.3 1609.7,1482.3 1614.4,1452.7 1619.0,1462.3 1623.7,1508.0 1628.3,1572.4 1633.0,1639.6 1637.6,1699.0 1642.3,1746.3 1646.9,1781.6 1651.6,1806.7 1656.2,1823.9 1660.9,1835.4 1665.5,1842.8 1670.2,1847.4 1674.8,1850.3 1679.5,1852.0 1684.1,1853.0 1688.7,1853.6 1693.4,1854.0 1698.0,1854.2 1702.7,1854.3 1704.1,1854.3" fill="none" stroke="#ff0000" stroke-width="4" stroke-linejoin="round" stroke-linecap="butt"/>
<polyline points="1483.4,1838.0 1484.3,1838.0 1488.9,1838.0 1493.6,1838.1 1498.2,1838.2 1502.9,1838.3 1507.5,1839.3 1512.2,1839.5 1516.8,1839.6 1521.5,1839.6 1526.1,1839.7 1530.8,1839.7 1535.4,1839.8 1540.0,1839.8 1544.7,1839.7 1549.3,1839.4 1554.0,1838.6 1558.6,1836.8 1563.3,1833.5 1567.9,1827.9 1572.6,1819.4 1577.2,1808.1 1581.9,1795.1 1586.5,1783.1 1591.2,1775.2 1595.8,1773.9 1600.5,1780.0 1605.1,1791.7 1609.7,1806.4 1614.4,1820.8 1619.0,1833.1 1623.7,1842.6 1628.3,1847.8 1633.0,1850.7 1637.6,1852.2 1642.3,1852.9 1646.9,1853.3 1651.6,1853.5 1656.2,1853.7 1660.9,1853.8 1665.5,1853.9 1670.2,1853.9 1674.8,1854.0 1679.5,1854.1 1684.1,1854.2 1688.7,1854.2 1693.4,1854.3 1698.0,1854.3 1702.7,1854.4 1704.1,1854.4" fill="none" stroke="#0000ff" stroke-width="4" stroke-linejoin="round" stroke-linecap="butt"/>
<polyline points="1296.2,1836.5 1298.4,1836.5 1303.1,1836.5 1307.7,1836.5 1312.3,1836.5 1317.0,1836.5 1321.6,1836.5 1326.3,1836.5 1330.9,1836.5 1335.6,1836.5 1340.2,1836.5 1344.9,1836.5 1349.5,1836.5 1354.2,1836.5 1358.8,1836.5 1363.5,1836.5 1368.1,1836.6 1372.8,1836.6 1377.4,1836.6 1382.1,1836.7 1386.7,1836.7 1391.3,1836.8 1396.0,1836.8 1400.6,1836.9 1405.3,1836.9 1409.9,1837.0 1414.6,1837.1 1419.2,1837.2 1423.9,1837.3 1428.5,1837.4 1433.2,1837.4 1437.8,1837.4 1442.5,1837.4 1447.1,1837.2 1451.8,1837.0 1456.4,1836.6 1461.0,1836.1 1465.7,1835.4 1470.3,1834.5 1475.0,1833.3 1479.6,1831.8 1484.3,1829.9 1488.9,1827.5 1493.6,1824.8 1498.2,1821.6 1502.9,1818.0 1507.5,1814.9 1512.2,1810.8 1516.8,1806.4 1521.5,1802.1 1526.1,1798.0 1530.8,1794.4 1535.4,1791.4 1540.0,1789.3 1544.7,1788.3 1549.3,1788.2 1554.0,1789.3 1558.6,1791.3 1563.3,1794.3 1567.9,1798.1 1572.6,1802.6 1577.2,1807.5 1581.9,1812.5 1586.5,1817.6 1591.2,1822.5 1595.8,1827.2 1600.5,1831.6 1605.1,1835.7 1609.7,1839.3 1614.4,1842.7 1619.0,1845.9 1623.7,1849.0 1628.3,1850.4 1633.0,1851.3 1637.6,1851.9 1642.3,1852.4 1646.9,1852.9 1651.6,1853.2 1656.2,1853.4 1660.9,1853.6 1665.5,1853.8 1670.2,1853.9 1674.8,1854.0 1679.5,1854.1 1684.1,1854.1 1688.7,1854.2 1693.4,1854.3 1698.0,1854.3 1702.7,1854.4 1704.1,1854.4" fill="none" stroke="#ff00ff" stroke-width="4" stroke-linejoin="round" stroke-linecap="butt"/>
<polyline points="1310.4,1836.5 1312.3,1836.5 1317.0,1836.5 1321.6,1836.5 1326.3,1836.5 1330.9,1836.5 1335.6,1836.5 1340.2,1836.5 1344.9,1836.5 1349.5,1836.5 1354.2,1836.5 1358.8,1836.5 1363.5,1836.5 1368.1,1836.6 1372.8,1836.6 1377.4,1836.6 1382.1,1836.7 1386.7,1836.7 1391.3,1836.8 1396.0,1836.8 1400.6,1836.8 1405.3,1836.9 1409.9,1836.9 1414.6,1836.9 1419.2,1836.9 1423.9,1836.9 1428.5,1836.7 1433.2,1836.4 1437.8,1835.9 1442.5,1835.1 1447.1,1834.1 1451.8,1832.8 1456.4,1831.3 1461.0,1829.6 1465.7,1828.0 1470.3,1826.6 1475.0,1825.4 1479.6,1824.8 1484.3,1824.7 1488.9,1825.2 1493.6,1826.3 1498.2,1827.7 1502.9,1829.4 1507.5,1832.1 1512.2,1833.8 1516.8,1835.4 1521.5,1836.6 1526.1,1837.6 1530.8,1838.3 1535.4,1838.9 1540.0,1839.3 1544.7,1839.6 1549.3,1839.8 1554.0,1840.0 1558.6,1840.1 1563.3,1840.3 1567.9,1840.6 1572.6,1841.0 1577.2,1841.5 1581.9,1842.1 1586.5,1842.8 1591.2,1843.6 1595.8,1844.5 1600.5,1845.6 1605.1,1846.7 1609.7,1847.9 1614.4,1849.2 1619.0,1850.8 1623.7,1852.6 1628.3,1853.0 1633.0,1853.1 1637.6,1853.2 1642.3,1853.3 1646.9,1853.5 1651.6,1853.6 1655.4,1853.7" fill="none" stroke="#008000" stroke-width="4" stroke-linejoin="round" stroke-linecap="butt"/>
<polyline points="1189.7,1836.5 1191.5,1836.5 1196.2,1836.5 1200.8,1836.5 1205.5,1836.5 1210.1,1836.5 1214.8,1836.5 1219.4,1836.5 1224.1,1836.5 1228.7,1836.5 1233.4,1836.5 1238.0,1836.5 1242.6,1836.5 1247.3,1836.5 1251.9,1836.5 1256.6,1836.5 1261.2,1836.5 1265.9,1836.5 1270.5,1836.5 1275.2,1836.5 1279.8,1836.5 1284.5,1836.4 1289.1,1836.4 1293.8,1836.4 1298.4,1836.3 1303.1,1836.2 1307.7,1836.1 1312.3,1835.9 1317.0,1835.7 1321.6,1835.4 1326.3,1834.9 1330.9,1834.4 1335.6,1833.8 1340.2,1833.0 1344.9,1832.2 1349.5,1831.4 1354.2,1830.5 1358.8,1829.7 1363.5,1829.0 1368.1,1828.4 1372.8,1828.2 1377.4,1828.1 1382.1,1828.3 1386.7,1828.8 1391.3,1829.5 1396.0,1830.3 1400.6,1831.2 1405.3,1832.1 1409.9,1833.1 1414.6,1834.0 1419.2,1834.8 1423.9,1835.5 1428.5,1836.1 1433.2,1836.6 1437.8,1837.0 1442.5,1837.3 1447.1,1837.5 1451.8,1837.6 1456.4,1837.7 1461.0,1837.8 1465.7,1837.8 1470.3,1837.9 1475.0,1837.9 1479.6,1837.9 1484.3,1838.0 1488.9,1838.0 1493.6,1838.1 1498.2,1838.2 1502.9,1838.3 1507.5,1839.3 1512.2,1839.5 1516.8,1839.6 1521.5,1839.6 1526.1,1839.7 1530.8,1839.7 1535.4,1839.8 1540.0,1839.8 1544.7,1839.9 1549.3,1840.0 1554.0,1840.1 1558.6,1840.2 1563.3,1840.3 1567.9,1840.6 1572.6,1841.0 1577.2,1841.5 1581.9,1842.1 1584.7,1842.5" fill="none" stroke="#000080" stroke-width="4" stroke-linejoin="round" stroke-linecap="butt"/>
<polyline points="1239.4,1836.5 1242.6,1836.5 1247.3,1836.5 1251.9,1836.5 1256.6,1836.5 1261.2,1836.5 1265.9,1836.5 1270.5,1836.5 1275.2,1836.5 1279.8,1836.5 1284.5,1836.5 1289.1,1836.5 1293.8,1836.5 1298.4,1836.5 1303.1,1836.5 1307.7,1836.5 1312.3,1836.5 1317.0,1836.5 1321.6,1836.5 1326.3,1836.5 1330.9,1836.5 1335.6,1836.5 1340.2,1836.5 1344.9,1836.5 1349.5,1836.5 1354.2,1836.5 1358.8,1836.4 1363.5,1836.4 1368.1,1836.3 1372.8,1836.2 1377.4,1836.1 1382.1,1835.9 1386.7,1835.6 1391.3,1835.2 1396.0,1834.8 1400.6,1834.3 1405.3,1833.7 1409.9,1833.1 1414.6,1832.6 1419.2,1832.2 1423.9,1831.8 1428.5,1831.7 1433.2,1831.7 1437.8,1831.9 1442.5,1832.3 1447.1,1832.8 1451.8,1833.4 1456.4,1834.1 1461.0,1834.8 1465.7,1835.4 1470.3,1836.0 1475.0,1836.5 1479.6,1836.9 1484.3,1837.3 1488.9,1837.5 1493.6,1837.8 1498.2,1838.0 1502.9,1838.2 1507.5,1839.2 1512.2,1839.4 1516.8,1839.5 1521.5,1839.6 1526.1,1839.7 1530.8,1839.7 1535.4,1839.8 1540.0,1839.8 1544.7,1839.9 1549.3,1840.0 1554.0,1840.1 1558.6,1840.2 1563.3,1840.3 1567.9,1840.6 1572.6,1841.0 1577.2,1841.5 1581.9,1842.1 1586.5,1842.8 1591.2,1843.6 1595.8,1844.5 1600.5,1845.6 1605.1,1846.7 1609.7,1847.9 1614.4,1849.2 1619.0,1850.8 1623.7,1852.6 1626.0,1852.9" fill="none" stroke="#8000ff" stroke-width="4" stroke-linejoin="round" stroke-linecap="butt"/>
<polyline points="1189.7,1836.5 1191.5,1836.5 1196.2,1836.5 1200.8,1836.5 1205.5,1836.5 1210.1,1836.5 1214.8,1836.5 1219.4,1836.5 1224.1,1836.5 1228.7,1836.4 1233.4,1836.4 1238.0,1836.4 1242.6,1836.4 1247.3,1836.3 1251.9,1836.1 1256.6,1836.0 1261.2,1835.7 1265.9,1835.3 1270.5,1834.8 1275.2,1834.2 1279.8,1833.4 1284.5,1832.4 1289.1,1831.3 1293.8,1830.2 1298.4,1829.0 1303.1,1827.9 1307.7,1826.9 1312.3,1826.2 1317.0,1825.9 1321.6,1825.9 1326.3,1826.2 1330.9,1826.9 1335.6,1827.9 1340.2,1829.0 1344.9,1830.2 1349.5,1831.4 1354.2,1832.5 1358.8,1833.4 1363.5,1834.2 1368.1,1834.9 1372.8,1835.4 1377.4,1835.8 1382.1,1836.2 1386.7,1836.4 1391.3,1836.6 1396.0,1836.7 1400.6,1836.8 1405.3,1836.9 1409.9,1837.0 1414.6,1837.1 1419.2,1837.2 1423.9,1837.3 1428.5,1837.5 1433.2,1837.6 1437.8,1837.7 1442.5,1837.7 1447.1,1837.8 1451.8,1837.8 1456.4,1837.8 1461.0,1837.9 1465.7,1837.9 1470.3,1837.9 1475.0,1837.9 1479.6,1837.9 1484.3,1838.0 1488.9,1838.0 1493.6,1838.1 1498.2,1838.2 1502.9,1838.3 1507.5,1839.3 1512.2,1839.5 1512.6,1839.5" fill="none" stroke="#800080" stroke-width="4" stroke-linejoin="round" stroke-linecap="butt"/>
<polyline points="1189.7,1836.4 1191.5,1836.4 1196.2,1836.4 1200.8,1836.4 1205.5,1836.4 1210.1,1836.3 1214.8,1836.2 1219.4,1836.1 1224.1,1835.9 1228.7,1835.7 1233.4,1835.4 1238.0,1835.0 1242.6,1834.6 1247.3,1834.1 1251.9,1833.6 1256.6,1833.0 1261.2,1832.5 1265.9,1832.0 1270.5,1831.7 1275.2,1831.4 1279.8,1831.3 1284.5,1831.3 1289.1,1831.5 1293.8,1831.8 1298.4,1832.2 1303.1,1832.7 1307.7,1833.3 1312.3,1833.8 1317.0,1834.3 1321.6,1834.8 1326.3,1835.2 1330.9,1835.5 1335.6,1835.8 1340.2,1836.0 1344.9,1836.2 1349.5,1836.3 1354.2,1836.4 1358.8,1836.4 1363.5,1836.5 1368.1,1836.5 1372.8,1836.6 1377.4,1836.6 1382.1,1836.7 1386.7,1836.7 1391.3,1836.8 1396.0,1836.8 1400.6,1836.9 1405.3,1836.9 1409.9,1837.0 1414.6,1837.1 1419.2,1837.2 1423.9,1837.3 1428.5,1837.5 1433.2,1837.6 1437.8,1837.7 1442.5,1837.7 1447.1,1837.8 1451.8,1837.8 1456.4,1837.8 1461.0,1837.9 1465.7,1837.9 1470.3,1837.9 1475.0,1837.9 1479.6,1837.9 1484.3,1838.0 1488.9,1838.0 1489.4,1838.0" fill="none" stroke="#800000" stroke-width="4" stroke-linejoin="round" stroke-linecap="butt"/>
<polyline points="1189.7,1836.5 1191.5,1836.5 1196.2,1836.5 1200.8,1836.5 1205.5,1836.5 1210.1,1836.5 1214.8,1836.5 1219.4,1836.5 1224.1,1836.5 1228.7,1836.5 1233.4,1836.5 1238.0,1836.5 1242.6,1836.5 1247.3,1836.5 1251.9,1836.5 1256.6,1836.5 1261.2,1836.5 1265.9,1836.5 1270.5,1836.5 1275.2,1836.5 1279.8,1836.5 1284.5,1836.5 1289.1,1836.5 1293.8,1836.5 1298.4,1836.5 1303.1,1836.5 1307.7,1836.5 1312.3,1836.5 1317.0,1836.5 1321.6,1836.5 1326.3,1836.5 1330.9,1836.5 1335.6,1836.5 1340.2,1836.5 1344.9,1836.5 1349.5,1836.5 1354.2,1836.5 1358.8,1836.5 1363.5,1836.5 1368.1,1836.6 1372.8,1836.6 1377.4,1836.6 1382.1,1836.7 1386.7,1836.7 1391.3,1836.8 1396.0,1836.8 1400.6,1836.9 1405.3,1836.9 1409.9,1837.0 1414.6,1837.1 1419.2,1837.2 1423.9,1837.3 1428.5,1837.5 1433.2,1837.6 1437.8,1837.7 1442.5,1837.7 1447.1,1837.8 1451.8,1837.8 1456.4,1837.8 1461.0,1837.9 1465.7,1837.9 1470.3,1837.9 1475.0,1837.9 1479.6,1837.9 1484.3,1838.0 1488.9,1838.0 1493.6,1838.1 1498.2,1838.2 1502.9,1838.3 1507.5,1839.3 1512.2,1839.5 1516.8,1839.6 1521.5,1839.6 1526.1,1839.7 1530.8,1839.7 1535.4,1839.8 1540.0,1839.8 1544.7,1839.9 1549.3,1840.0 1554.0,1840.1 1558.6,1840.2 1563.3,1840.3 1567.9,1840.6 1572.6,1841.0 1577.2,1841.5 1581.9,1842.1 1586.5,1842.8 1591.2,1843.6 1595.8,1844.5 1600.5,1845.6 1605.1,1846.7 1609.7,1847.9 1614.4,1849.2 1619.0,1850.8 1623.7,1852.6 1628.3,1853.0 1633.0,1853.1 1637.6,1853.2 1642.3,1853.3 1646.9,1853.5 1651.6,1853.6 1656.2,1853.7 1660.9,1853.8 1665.5,1853.9 1670.2,1853.9 1674.8,1854.0 1679.5,1854.1 1684.1,1854.2 1688.7,1854.2 1693.4,1854.3 1698.0,1854.3 1702.7,1854.4 1704.1,1854.4" fill="none" stroke="#808000" stroke-width="4.3" stroke-linejoin="round" stroke-linecap="butt"/>
<polyline points="1081.4,1838.2 1084.7,1839.5 1089.3,1838.3 1093.9,1837.2 1098.6,1837.0 1103.2,1836.8 1107.9,1836.7 1112.5,1836.6 1117.2,1836.2 1121.8,1835.8 1126.5,1835.5 1131.1,1835.4 1135.8,1835.3 1140.4,1835.3 1145.1,1835.3 1149.7,1835.2 1154.4,1835.2 1159.0,1835.2 1163.6,1835.1 1168.3,1835.1 1172.9,1835.1 1177.6,1835.1 1182.2,1835.0 1186.9,1835.0 1191.5,1834.9 1196.2,1834.7 1200.8,1834.4 1205.5,1834.2 1210.1,1833.9 1214.8,1833.6 1219.4,1833.2 1224.1,1832.7 1228.7,1832.1 1233.4,1831.5 1238.0,1830.8 1242.6,1830.3 1247.3,1829.8 1251.9,1829.3 1256.6,1828.8 1261.2,1828.2 1265.9,1827.6 1270.5,1827.0 1275.2,1826.3 1279.8,1825.6 1284.5,1825.0 1289.1,1824.4 1293.8,1823.9 1298.4,1823.3 1303.1,1822.8 1307.7,1822.3 1312.3,1821.8 1317.0,1821.4 1321.6,1821.3 1326.3,1821.4 1330.9,1821.8 1335.6,1822.2 1340.2,1822.7 1344.9,1823.1 1349.5,1823.4 1354.2,1823.7 1358.8,1823.8 1363.5,1824.0 1368.1,1824.0 1372.8,1824.2 1377.4,1824.3 1382.1,1824.6 1386.7,1824.8 1391.3,1825.1 1396.0,1825.4 1400.6,1825.5 1405.3,1825.6 1409.9,1825.7 1414.6,1825.6 1419.2,1825.5 1423.9,1825.4 1428.5,1825.3 1433.2,1825.1 1437.8,1824.7 1442.5,1824.2 1447.1,1823.5 1451.8,1822.6 1456.4,1821.5 1461.0,1820.5 1465.7,1819.4 1470.3,1818.2 1475.0,1816.8 1479.6,1815.5 1484.3,1814.3 1488.9,1812.9 1493.6,1811.2 1498.2,1809.2 1502.9,1807.0 1507.5,1805.3 1512.2,1802.5 1516.8,1799.3 1521.5,1795.9 1526.1,1792.5 1530.8,1789.2 1535.4,1786.2 1540.0,1783.8 1544.7,1781.8 1549.3,1779.7 1554.0,1776.8 1558.6,1773.2 1563.3,1767.4 1567.9,1758.5 1572.6,1745.5 1577.2,1726.2 1581.9,1699.4 1586.5,1664.8 1591.2,1623.6 1595.8,1577.4 1600.5,1526.0 1605.1,1473.3 1609.7,1432.2 1614.4,1417.7 1619.0,1439.5 1623.7,1489.2 1628.3,1556.6 1633.0,1627.4 1637.6,1688.7 1642.3,1737.4 1646.9,1774.6 1651.6,1801.6 1656.2,1820.3 1660.9,1833.3 1665.5,1841.9 1670.2,1847.3 1674.8,1850.3 1679.5,1852.0 1684.1,1853.0 1688.7,1853.6 1693.4,1854.0 1698.0,1854.2 1702.7,1854.3 1707.3,1854.4 1712.0,1854.7 1716.6,1854.9 1721.3,1855.2 1725.9,1855.5 1730.6,1855.7 1735.2,1855.8 1739.9,1856.0 1744.5,1856.2 1749.2,1856.3 1753.8,1856.5 1758.4,1856.6 1763.1,1856.7 1767.7,1856.8 1772.4,1856.9 1777.0,1857.0 1781.7,1857.1 1786.3,1857.2 1791.0,1857.3 1795.6,1857.3 1800.3,1857.4 1804.9,1857.4 1809.6,1857.5 1814.2,1857.6 1818.9,1857.6 1823.5,1857.7 1824.9,1857.7" fill="none" stroke="#2e68a8" stroke-width="4" stroke-linejoin="round" stroke-linecap="butt"/>
<text transform="translate(1453.50 1953.40) scale(1 1.02)" text-anchor="middle" style="font-size:34.6px">Binding Energy (eV)</text>
<text transform="translate(976.90 1583.00) rotate(-90) scale(1 1.03)" text-anchor="middle" style="font-size:34.95px">Intensity (a.u.)</text>
<text transform="translate(1524.80 1377.00) scale(1 1.06)" text-anchor="middle" font-weight="bold" style="font-size:42.1px">C 1s GN-CE</text>
<line x1="1121" x2="1197.5" y1="1408.2" y2="1408.2" stroke="#ff0000" stroke-width="4" stroke-linecap="round"/>
<text transform="translate(1208.8 1419.2) scale(1 1.05)" style="font-size:34.5px">C-C sp<tspan style="font-size:22.3px" dy="-15.5">2</tspan></text>
<line x1="1121" x2="1197.5" y1="1455.8" y2="1455.8" stroke="#0000ff" stroke-width="4" stroke-linecap="round"/>
<text transform="translate(1208.8 1466.8) scale(1 1.05)" style="font-size:34.5px">C=C sp<tspan style="font-size:22.3px" dy="-15.5">3</tspan></text>
<line x1="1121" x2="1197.5" y1="1498" y2="1498" stroke="#ff00ff" stroke-width="4" stroke-linecap="round"/>
<text transform="translate(1208.8 1509) scale(1 1.07)" style="font-size:34.5px">C-O</text>
<line x1="1121" x2="1197.5" y1="1541" y2="1541" stroke="#008000" stroke-width="4" stroke-linecap="round"/>
<text transform="translate(1208.8 1552) scale(1 1.07)" style="font-size:34.5px">C=O</text>
<line x1="1121" x2="1197.5" y1="1583" y2="1583" stroke="#000080" stroke-width="4" stroke-linecap="round"/>
<text transform="translate(1208.8 1594) scale(1 1.07)" style="font-size:34.5px">COOR</text>
<line x1="1121" x2="1197.5" y1="1629.5" y2="1629.5" stroke="#8000ff" stroke-width="4" stroke-linecap="round"/>
<text transform="translate(1208.8 1640.5) scale(1 0.74)" style="font-size:34.5px" font-family="Liberation Serif, serif"><tspan font-family="Liberation Serif, serif">π</tspan></text>
<text transform="translate(1234.7 1640.5) scale(1 1.0)" style="font-size:34.5px">electrons</text>
<line x1="1121" x2="1197.5" y1="1677" y2="1677" stroke="#800080" stroke-width="4" stroke-linecap="round"/>
<text transform="translate(1208.8 1688) scale(1 1.0)" style="font-size:34.5px">sp<tspan style="font-size:22.3px" dy="-15.5">2</tspan><tspan dy="15.5"> </tspan>loss shakeup</text>
<line x1="1121" x2="1197.5" y1="1724" y2="1724" stroke="#800000" stroke-width="4" stroke-linecap="round"/>
<text transform="translate(1208.8 1735) scale(1 1.0)" style="font-size:34.5px">sp<tspan style="font-size:22.3px" dy="-15.5">2</tspan><tspan dy="15.5"> </tspan>loss shakeup</text>
</svg></body></html>
